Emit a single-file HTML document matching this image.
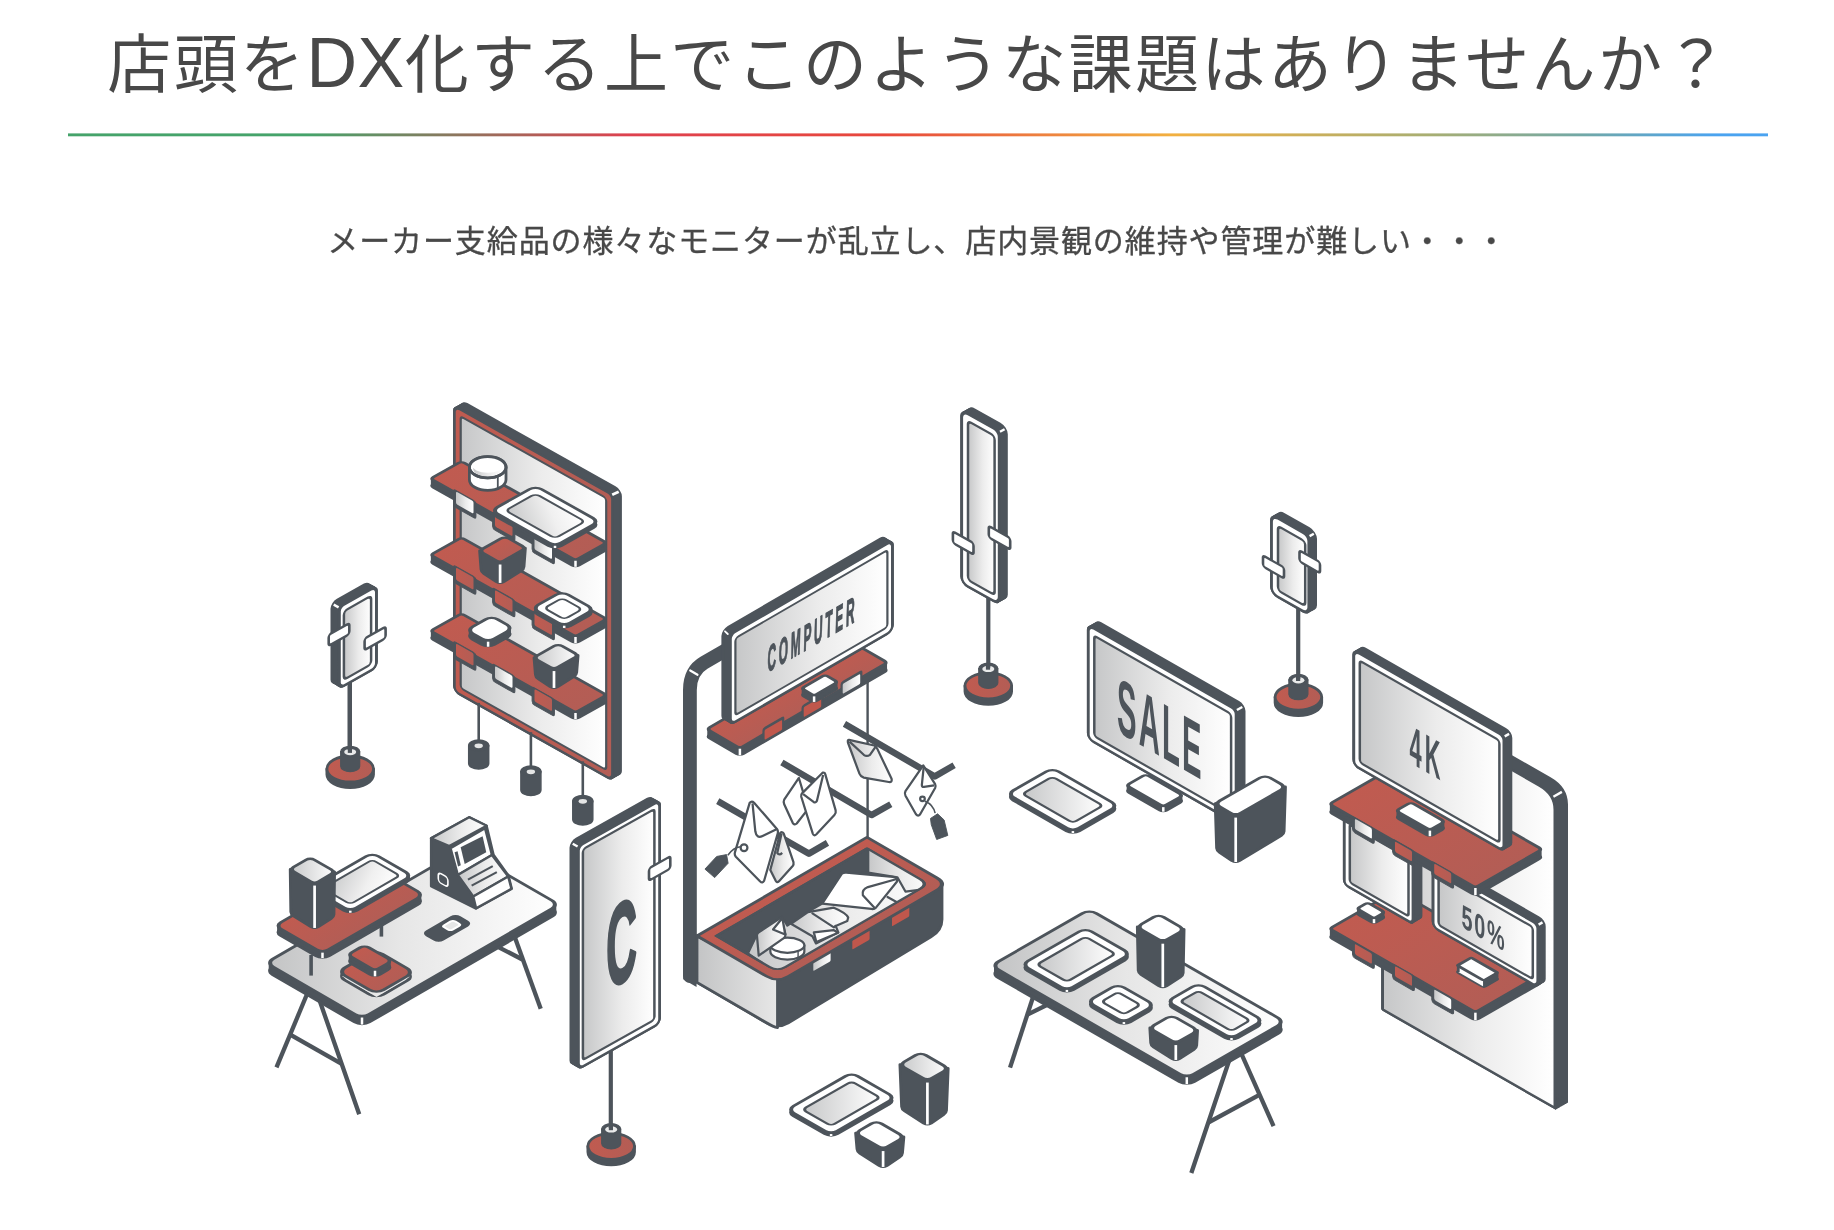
<!DOCTYPE html>
<html lang="ja"><head><meta charset="utf-8"><title>店頭DX</title>
<style>
html,body{margin:0;padding:0;background:#fff;}
body{width:1834px;height:1230px;overflow:hidden;position:relative;font-family:"Liberation Sans","Noto Sans CJK JP",sans-serif;color:#4a4a4a;}
h1{position:absolute;left:0;top:0;width:1834px;margin:0;text-align:center;font-weight:400;font-size:64px;line-height:130px;letter-spacing:2.4px;padding-left:4px;box-sizing:border-box;white-space:nowrap;color:#484848;font-family:"Liberation Sans","Noto Sans CJK JP",sans-serif;}
p.sub{position:absolute;left:0;top:217.9px;width:1834px;margin:0;text-align:center;font-size:31px;line-height:48px;letter-spacing:0.9px;-webkit-text-stroke:0.3px #484848;padding-left:0.8px;box-sizing:border-box;white-space:nowrap;color:#484848;font-weight:400;font-family:"Liberation Sans","Noto Sans CJK JP",sans-serif;}
svg{position:absolute;left:0;top:0;}
h1,p.sub{will-change:transform;}
</style></head><body>
<h1>店頭を<span style="font-size:70px;line-height:0;letter-spacing:0.5px">DX</span>化する上でこのような課題はありませんか？</h1>
<p class="sub">メーカー支給品の様々なモニターが乱立し、店内景観の維持や管理が難しい・・・</p>
<svg width="1834" height="1230" viewBox="0 0 1834 1230">
<defs>
<linearGradient id="gl" x1="0" y1="0" x2="1" y2="0"><stop offset="0" stop-color="#c6c7c8"/><stop offset="0.55" stop-color="#ececec"/><stop offset="1" stop-color="#ffffff"/></linearGradient>
<linearGradient id="gr" x1="0" y1="0" x2="1" y2="0"><stop offset="0" stop-color="#c05b50"/><stop offset="1" stop-color="#b35d55"/></linearGradient>
<linearGradient id="gt" gradientUnits="objectBoundingBox" x1="0" y1="1" x2="1" y2="0"><stop offset="0" stop-color="#c6c7c8"/><stop offset="0.6" stop-color="#f0f0f0"/><stop offset="1" stop-color="#ffffff"/></linearGradient>
<linearGradient id="rule" x1="0" y1="0" x2="1" y2="0"><stop offset="0" stop-color="#45a36a"/><stop offset="0.14" stop-color="#45a36a"/><stop offset="0.33" stop-color="#de414f"/><stop offset="0.48" stop-color="#e8483c"/><stop offset="0.65" stop-color="#f2b040"/><stop offset="0.80" stop-color="#a8ae72"/><stop offset="0.89" stop-color="#72a8a6"/><stop offset="0.97" stop-color="#4aa3f0"/><stop offset="1" stop-color="#4aa3f0"/></linearGradient>
</defs>
<rect x="68" y="133.4" width="1700" height="2.9" fill="url(#rule)"/>
<rect transform="matrix(1,0.562,0,1,454.4,406.2)" x="0" y="0" width="158.1" height="285" rx="5" fill="#4d545b" stroke="#4d545b" stroke-width="2.8" />
<rect transform="matrix(1,0.562,0,1,455.29,405.7)" x="0" y="0" width="158.1" height="285" rx="5" fill="#4d545b" stroke="#4d545b" stroke-width="2.8" />
<rect transform="matrix(1,0.562,0,1,456.18,405.2)" x="0" y="0" width="158.1" height="285" rx="5" fill="#4d545b" stroke="#4d545b" stroke-width="2.8" />
<rect transform="matrix(1,0.562,0,1,457.07,404.7)" x="0" y="0" width="158.1" height="285" rx="5" fill="#4d545b" stroke="#4d545b" stroke-width="2.8" />
<rect transform="matrix(1,0.562,0,1,457.96,404.2)" x="0" y="0" width="158.1" height="285" rx="5" fill="#4d545b" stroke="#4d545b" stroke-width="2.8" />
<rect transform="matrix(1,0.562,0,1,458.84,403.7)" x="0" y="0" width="158.1" height="285" rx="5" fill="#4d545b" stroke="#4d545b" stroke-width="2.8" />
<rect transform="matrix(1,0.562,0,1,459.73,403.2)" x="0" y="0" width="158.1" height="285" rx="5" fill="#4d545b" stroke="#4d545b" stroke-width="2.8" />
<rect transform="matrix(1,0.562,0,1,460.62,402.7)" x="0" y="0" width="158.1" height="285" rx="5" fill="#4d545b" stroke="#4d545b" stroke-width="2.8" />
<rect transform="matrix(1,0.562,0,1,461.51,402.2)" x="0" y="0" width="158.1" height="285" rx="5" fill="#4d545b" stroke="#4d545b" stroke-width="2.8" />
<rect transform="matrix(1,0.562,0,1,462.4,401.7)" x="0" y="0" width="158.1" height="285" rx="5" fill="#4d545b" stroke="#4d545b" stroke-width="2.8" />
<rect transform="matrix(1,0.562,0,1,454.4,406.2)" x="0" y="0" width="158.1" height="285" rx="5" fill="url(#gr)" stroke="#4d545b" stroke-width="2.7" />
<rect transform="matrix(1,0.562,0,1,454.4,406.2)" x="6.3" y="6.6" width="145.5" height="271.8" rx="3" fill="url(#gl)" stroke="#4d545b" stroke-width="2.2" />
<line x1="612.2" y1="494.75" x2="618.7" y2="491.65" stroke="#ffffff" stroke-width="2.8" stroke-linecap="butt"/>
<line x1="478.7" y1="702.86" x2="478.7" y2="745.5" stroke="#4d545b" stroke-width="2.6" stroke-linecap="butt"/>
<path d="M468.7,745.5 L468.7,763.5 A10,5.6 0 0 0 488.7,763.5 L488.7,745.5 Z" fill="#4d545b" stroke="#4d545b" stroke-width="1.5" stroke-linejoin="round" stroke-linecap="round" />
<ellipse cx="478.7" cy="745.5" rx="10" ry="5.6" fill="#4d545b" stroke="#4d545b" stroke-width="1.5" />
<ellipse cx="478.7" cy="745.8" rx="4.2" ry="2.4" fill="#e4e5e5" stroke="none" stroke-width="0" />
<line x1="530.9" y1="732.19" x2="530.9" y2="771.5" stroke="#4d545b" stroke-width="2.6" stroke-linecap="butt"/>
<path d="M520.9,771.5 L520.9,790 A10,5.6 0 0 0 540.9,790 L540.9,771.5 Z" fill="#4d545b" stroke="#4d545b" stroke-width="1.5" stroke-linejoin="round" stroke-linecap="round" />
<ellipse cx="530.9" cy="771.5" rx="10" ry="5.6" fill="#4d545b" stroke="#4d545b" stroke-width="1.5" />
<ellipse cx="530.9" cy="771.8" rx="4.2" ry="2.4" fill="#e4e5e5" stroke="none" stroke-width="0" />
<line x1="582.8" y1="761.36" x2="582.8" y2="801" stroke="#4d545b" stroke-width="2.6" stroke-linecap="butt"/>
<path d="M572.8,801 L572.8,819.5 A10,5.6 0 0 0 592.8,819.5 L592.8,801 Z" fill="#4d545b" stroke="#4d545b" stroke-width="1.5" stroke-linejoin="round" stroke-linecap="round" />
<ellipse cx="582.8" cy="801" rx="10" ry="5.6" fill="#4d545b" stroke="#4d545b" stroke-width="1.5" />
<ellipse cx="582.8" cy="801.3" rx="4.2" ry="2.4" fill="#e4e5e5" stroke="none" stroke-width="0" />
<rect transform="matrix(1,0.562,-1,0.562,461.5,468.3)" x="0" y="0" width="145" height="31" rx="3" fill="#4d545b" stroke="#4d545b" stroke-width="2.8" />
<polygon points="432.26,478.72 432.26,485.72 604.74,549.79 604.74,542.79" fill="#4d545b" stroke="#4d545b" stroke-width="2.8" stroke-linejoin="round" />
<rect transform="matrix(1,0.562,-1,0.562,461.5,461.3)" x="0" y="0" width="145" height="31" rx="3" fill="url(#gr)" stroke="#4d545b" stroke-width="2.8" />
<line x1="575.5" y1="560.76" x2="575.5" y2="566.82" stroke="#ffffff" stroke-width="2.5" stroke-linecap="butt"/>
<rect transform="matrix(1,0.562,0,1,453.6,489)" x="0" y="0" width="22.3" height="17.4" rx="2.5" fill="#4d545b" stroke="#4d545b" stroke-width="1" />
<rect transform="matrix(1,0.562,0,1,456,491.5)" x="0" y="0" width="17.5" height="12.5" rx="1.5" fill="url(#gl)" stroke="none" stroke-width="0" />
<rect transform="matrix(1,0.562,0,1,492.6,511.5)" x="0" y="0" width="22.3" height="17.4" rx="2.5" fill="#4d545b" stroke="#4d545b" stroke-width="1" />
<rect transform="matrix(1,0.562,0,1,495,514)" x="0" y="0" width="17.5" height="12.5" rx="1.5" fill="url(#gr)" stroke="none" stroke-width="0" />
<rect transform="matrix(1,0.562,0,1,532.1,534.5)" x="0" y="0" width="22.3" height="17.4" rx="2.5" fill="#4d545b" stroke="#4d545b" stroke-width="1" />
<rect transform="matrix(1,0.562,0,1,534.5,537)" x="0" y="0" width="17.5" height="12.5" rx="1.5" fill="url(#gl)" stroke="none" stroke-width="0" />
<path d="M469.4,467.2 L469.4,479.7 A18.3,10.6 0 0 0 506,479.7 L506,467.2 Z" fill="#ffffff" stroke="#4d545b" stroke-width="2.8" stroke-linejoin="round" stroke-linecap="round" />
<ellipse cx="487.7" cy="467.2" rx="18.3" ry="10.6" fill="#ffffff" stroke="#4d545b" stroke-width="2.8" />
<ellipse cx="487.7" cy="468.8" rx="14.5" ry="7.6" fill="url(#gl)"/>
<ellipse cx="487.7" cy="464.6" rx="16" ry="8.2" fill="#fff"/>
<ellipse cx="487.7" cy="467.2" rx="18.3" ry="10.6" fill="none" stroke="#4d545b" stroke-width="2.8" />
<line x1="497.8" y1="477.2" x2="497.8" y2="489.2" stroke="#4d545b" stroke-width="1.8" stroke-linecap="butt"/>
<rect transform="matrix(1,0.562,-1,0.562,535.5,489)" x="0" y="0" width="63.5" height="44" rx="6" fill="#4d545b" stroke="#4d545b" stroke-width="2.8" />
<polygon points="495.02,510.53 495.02,513.73 595.48,524.69 595.48,521.49" fill="#4d545b" stroke="#4d545b" stroke-width="2.8" stroke-linejoin="round" />
<rect transform="matrix(1,0.562,-1,0.562,535.5,485.8)" x="0" y="0" width="63.5" height="44" rx="6" fill="#ffffff" stroke="#4d545b" stroke-width="2.8" />
<line x1="555" y1="545.78" x2="555" y2="548.04" stroke="#ffffff" stroke-width="2.5" stroke-linecap="butt"/>
<rect transform="matrix(1,0.562,-1,0.562,535.5,485.8)" x="7" y="7" width="49.5" height="30" rx="4" fill="url(#gt)" stroke="#4d545b" stroke-width="2" />
<rect transform="matrix(1,0.562,-1,0.562,461.5,544.5)" x="0" y="0" width="145" height="31" rx="3" fill="#4d545b" stroke="#4d545b" stroke-width="2.8" />
<polygon points="432.26,554.92 432.26,561.92 604.74,625.99 604.74,618.99" fill="#4d545b" stroke="#4d545b" stroke-width="2.8" stroke-linejoin="round" />
<rect transform="matrix(1,0.562,-1,0.562,461.5,537.5)" x="0" y="0" width="145" height="31" rx="3" fill="url(#gr)" stroke="#4d545b" stroke-width="2.8" />
<line x1="575.5" y1="636.96" x2="575.5" y2="643.02" stroke="#ffffff" stroke-width="2.5" stroke-linecap="butt"/>
<rect transform="matrix(1,0.562,0,1,453.6,565)" x="0" y="0" width="22.3" height="17.4" rx="2.5" fill="#4d545b" stroke="#4d545b" stroke-width="1" />
<rect transform="matrix(1,0.562,0,1,456,567.5)" x="0" y="0" width="17.5" height="12.5" rx="1.5" fill="url(#gr)" stroke="none" stroke-width="0" />
<rect transform="matrix(1,0.562,0,1,492.6,587.5)" x="0" y="0" width="22.3" height="17.4" rx="2.5" fill="#4d545b" stroke="#4d545b" stroke-width="1" />
<rect transform="matrix(1,0.562,0,1,495,590)" x="0" y="0" width="17.5" height="12.5" rx="1.5" fill="url(#gr)" stroke="none" stroke-width="0" />
<rect transform="matrix(1,0.562,0,1,532.1,610.5)" x="0" y="0" width="22.3" height="17.4" rx="2.5" fill="#4d545b" stroke="#4d545b" stroke-width="1" />
<rect transform="matrix(1,0.562,0,1,534.5,613)" x="0" y="0" width="17.5" height="12.5" rx="1.5" fill="url(#gr)" stroke="none" stroke-width="0" />
<path d="M479.6,550.86 L481,569.36 Q481.2,571.86 483.5,573.26 L496.1,581.51 Q500.1,583.71 504.1,581.51 L521.5,570.56 Q523.8,569.16 524,566.66 L525.4,548.16 Z" fill="#4d545b" stroke="#4d545b" stroke-width="2.8" stroke-linejoin="round" stroke-linecap="round" />
<rect transform="matrix(1,0.562,-1,0.562,504.9,536.3)" x="0" y="0" width="21.1" height="25.9" rx="4" fill="url(#gr)" stroke="#4d545b" stroke-width="2.8"/>
<line x1="500.1" y1="564.51" x2="500.1" y2="582.91" stroke="#ffffff" stroke-width="2.7" stroke-linecap="butt"/>
<rect transform="matrix(1,0.562,-1,0.562,562.2,594.5)" x="0" y="0" width="32" height="30" rx="6" fill="#4d545b" stroke="#4d545b" stroke-width="2.8" />
<polygon points="535.72,608.16 535.72,611.36 590.68,612.48 590.68,609.28" fill="#4d545b" stroke="#4d545b" stroke-width="2.8" stroke-linejoin="round" />
<rect transform="matrix(1,0.562,-1,0.562,562.2,591.3)" x="0" y="0" width="32" height="30" rx="6" fill="#ffffff" stroke="#4d545b" stroke-width="2.8" />
<line x1="564.2" y1="625.71" x2="564.2" y2="627.97" stroke="#ffffff" stroke-width="2.5" stroke-linecap="butt"/>
<rect transform="matrix(1,0.562,-1,0.562,562.2,591.3)" x="6" y="6" width="20" height="18" rx="4" fill="#ffffff" stroke="#4d545b" stroke-width="2" />
<rect transform="matrix(1,0.562,-1,0.562,461.5,620.5)" x="0" y="0" width="145" height="31" rx="3" fill="#4d545b" stroke="#4d545b" stroke-width="2.8" />
<polygon points="432.26,630.92 432.26,637.92 604.74,701.99 604.74,694.99" fill="#4d545b" stroke="#4d545b" stroke-width="2.8" stroke-linejoin="round" />
<rect transform="matrix(1,0.562,-1,0.562,461.5,613.5)" x="0" y="0" width="145" height="31" rx="3" fill="url(#gr)" stroke="#4d545b" stroke-width="2.8" />
<line x1="575.5" y1="712.96" x2="575.5" y2="719.02" stroke="#ffffff" stroke-width="2.5" stroke-linecap="butt"/>
<rect transform="matrix(1,0.562,0,1,453.6,641)" x="0" y="0" width="22.3" height="17.4" rx="2.5" fill="#4d545b" stroke="#4d545b" stroke-width="1" />
<rect transform="matrix(1,0.562,0,1,456,643.5)" x="0" y="0" width="17.5" height="12.5" rx="1.5" fill="url(#gr)" stroke="none" stroke-width="0" />
<rect transform="matrix(1,0.562,0,1,492.6,663.5)" x="0" y="0" width="22.3" height="17.4" rx="2.5" fill="#4d545b" stroke="#4d545b" stroke-width="1" />
<rect transform="matrix(1,0.562,0,1,495,666)" x="0" y="0" width="17.5" height="12.5" rx="1.5" fill="url(#gl)" stroke="none" stroke-width="0" />
<rect transform="matrix(1,0.562,0,1,532.1,686.5)" x="0" y="0" width="22.3" height="17.4" rx="2.5" fill="#4d545b" stroke="#4d545b" stroke-width="1" />
<rect transform="matrix(1,0.562,0,1,534.5,689)" x="0" y="0" width="17.5" height="12.5" rx="1.5" fill="url(#gr)" stroke="none" stroke-width="0" />
<rect transform="matrix(1,0.562,-1,0.562,491.6,622)" x="0" y="0" width="21.5" height="25" rx="6" fill="#4d545b" stroke="#4d545b" stroke-width="2.8" />
<polygon points="470.12,630.05 470.12,636.05 509.58,634.08 509.58,628.08" fill="#4d545b" stroke="#4d545b" stroke-width="2.8" stroke-linejoin="round" />
<rect transform="matrix(1,0.562,-1,0.562,491.6,616)" x="0" y="0" width="21.5" height="25" rx="6" fill="#ffffff" stroke="#4d545b" stroke-width="2.8" />
<line x1="488.1" y1="641.7" x2="488.1" y2="646.76" stroke="#ffffff" stroke-width="2.5" stroke-linecap="butt"/>
<path d="M534,657.68 L535.4,674.68 Q535.6,677.18 537.9,678.58 L550,686.56 Q554,688.76 558,686.56 L574.2,676.28 Q576.5,674.88 576.7,672.38 L578.1,655.38 Z" fill="#4d545b" stroke="#4d545b" stroke-width="2.8" stroke-linejoin="round" stroke-linecap="round" />
<defs><linearGradient id="hg1" gradientUnits="userSpaceOnUse" x1="0" y1="24.7" x2="22.65" y2="2.05"><stop offset="0" stop-color="#c6c7c8"/><stop offset="1" stop-color="#ffffff"/></linearGradient></defs>
<rect transform="matrix(1,0.562,-1,0.562,558.1,643.8)" x="0" y="0" width="20.6" height="24.7" rx="4" fill="url(#hg1)" stroke="#4d545b" stroke-width="2.8"/>
<line x1="554" y1="671.06" x2="554" y2="687.96" stroke="#ffffff" stroke-width="2.7" stroke-linecap="butt"/>
<line x1="349.8" y1="680" x2="349.8" y2="751" stroke="#4d545b" stroke-width="4.2" stroke-linecap="butt"/>
<path d="M326.9,769 L326.9,774.6 A23.3,13 0 0 0 373.5,774.6 L373.5,769 Z" fill="#4d545b" stroke="#4d545b" stroke-width="2.8" stroke-linejoin="round" stroke-linecap="round" />
<ellipse cx="350.2" cy="769" rx="23.3" ry="13" fill="url(#gr)" stroke="#4d545b" stroke-width="2.8" />
<path d="M340.7,751.7 L340.7,766.2 A9.5,5.4 0 0 0 359.7,766.2 L359.7,751.7 Z" fill="#4d545b" stroke="#4d545b" stroke-width="1.2" stroke-linejoin="round" stroke-linecap="round" />
<ellipse cx="350.2" cy="751.7" rx="9.5" ry="5.4" fill="#4d545b" stroke="#4d545b" stroke-width="1.2" />
<ellipse cx="350.2" cy="752.1" rx="6" ry="3.2" fill="#e9eaea" stroke="none" stroke-width="0" />
<line x1="349.9" y1="748.7" x2="349.9" y2="752.9" stroke="#4d545b" stroke-width="4.2" stroke-linecap="butt"/>
<line x1="349.8" y1="680" x2="349.8" y2="750" stroke="#4d545b" stroke-width="4.2" stroke-linecap="butt"/>
<rect transform="matrix(1,-0.562,0,1,339.4,607.2)" x="0" y="0" width="37" height="81" rx="5" fill="#4d545b" stroke="#4d545b" stroke-width="2.8" />
<rect transform="matrix(1,-0.562,0,1,338.46,606.67)" x="0" y="0" width="37" height="81" rx="5" fill="#4d545b" stroke="#4d545b" stroke-width="2.8" />
<rect transform="matrix(1,-0.562,0,1,337.52,606.15)" x="0" y="0" width="37" height="81" rx="5" fill="#4d545b" stroke="#4d545b" stroke-width="2.8" />
<rect transform="matrix(1,-0.562,0,1,336.59,605.62)" x="0" y="0" width="37" height="81" rx="5" fill="#4d545b" stroke="#4d545b" stroke-width="2.8" />
<rect transform="matrix(1,-0.562,0,1,335.65,605.09)" x="0" y="0" width="37" height="81" rx="5" fill="#4d545b" stroke="#4d545b" stroke-width="2.8" />
<rect transform="matrix(1,-0.562,0,1,334.71,604.57)" x="0" y="0" width="37" height="81" rx="5" fill="#4d545b" stroke="#4d545b" stroke-width="2.8" />
<rect transform="matrix(1,-0.562,0,1,333.77,604.04)" x="0" y="0" width="37" height="81" rx="5" fill="#4d545b" stroke="#4d545b" stroke-width="2.8" />
<rect transform="matrix(1,-0.562,0,1,332.84,603.51)" x="0" y="0" width="37" height="81" rx="5" fill="#4d545b" stroke="#4d545b" stroke-width="2.8" />
<rect transform="matrix(1,-0.562,0,1,331.9,602.99)" x="0" y="0" width="37" height="81" rx="5" fill="#4d545b" stroke="#4d545b" stroke-width="2.8" />
<rect transform="matrix(1,-0.562,0,1,339.4,607.2)" x="0" y="0" width="37" height="81" rx="5" fill="#ffffff" stroke="#4d545b" stroke-width="2.8" />
<rect transform="matrix(1,-0.562,0,1,339.4,607.2)" x="4.5" y="6.5" width="27.2" height="68.5" rx="3.5" fill="url(#gl)" stroke="#4d545b" stroke-width="2.5" />
<line x1="338.6" y1="607.4" x2="333.7" y2="604.65" stroke="#ffffff" stroke-width="2.4" stroke-linecap="butt"/>
<rect transform="matrix(1,-0.562,0,1,328.7,634.8)" x="0" y="0" width="20.6" height="11" rx="2.5" fill="#ffffff" stroke="#4d545b" stroke-width="2.6" />
<rect transform="matrix(1,-0.562,0,1,364.6,638.5)" x="0" y="0" width="21" height="11.5" rx="2.5" fill="#ffffff" stroke="#4d545b" stroke-width="2.6" />
<line x1="310" y1="987" x2="277.3" y2="1065.4" stroke="#4d545b" stroke-width="4.3" stroke-linecap="square"/>
<line x1="317" y1="993" x2="358.5" y2="1112.2" stroke="#4d545b" stroke-width="4.3" stroke-linecap="square"/>
<line x1="291.6" y1="1035.4" x2="339.8" y2="1062.7" stroke="#4d545b" stroke-width="4.3" stroke-linecap="square"/>
<line x1="511.5" y1="928" x2="540" y2="1006.8" stroke="#4d545b" stroke-width="4.3" stroke-linecap="square"/>
<line x1="497" y1="946.3" x2="520.5" y2="958.5" stroke="#4d545b" stroke-width="4.3" stroke-linecap="square"/>
<defs><linearGradient id="hg2" gradientUnits="userSpaceOnUse" x1="0" y1="197" x2="146.5" y2="50.5"><stop offset="0" stop-color="#c2c3c4"/><stop offset="0.45" stop-color="#e6e6e6"/><stop offset="1" stop-color="#ffffff"/></linearGradient></defs>
<rect transform="matrix(1,0.578,-1,0.578,463,857)" x="0" y="0" width="96" height="197" rx="7" fill="#4d545b" stroke="#4d545b" stroke-width="2.8"/>
<polygon points="270.1,962.87 270.1,970.87 362,1024.95 554.9,912.49 554.9,904.49" fill="#4d545b" stroke="none"/>
<line x1="270.1" y1="962.87" x2="270.1" y2="970.87" stroke="#4d545b" stroke-width="2.8" stroke-linecap="butt"/>
<line x1="554.9" y1="904.49" x2="554.9" y2="912.49" stroke="#4d545b" stroke-width="2.8" stroke-linecap="butt"/>
<rect transform="matrix(1,0.578,-1,0.578,463,849)" x="0" y="0" width="96" height="197" rx="7" fill="url(#hg2)" stroke="#4d545b" stroke-width="2.8"/>
<line x1="362" y1="1017.52" x2="362" y2="1024.58" stroke="#ffffff" stroke-width="2.5" stroke-linecap="butt"/>
<rect transform="matrix(1,0.578,-1,0.578,455.5,914.5)" x="0" y="0" width="15.6" height="32.5" rx="4" fill="#4d545b" stroke="#4d545b" stroke-width="2"/>
<rect transform="matrix(1,0.578,-1,0.578,455.5,914.5)" x="3.6" y="6.2" width="8" height="10.5" rx="2.2" fill="#e6e7e7" stroke="#fff" stroke-width="2"/>
<rect transform="matrix(1,0.578,-1,0.578,375.5,954.5)" x="0" y="0" width="38.5" height="37.5" rx="7" fill="#e9e9e9" stroke="#4d545b" stroke-width="2.8"/>
<polygon points="342.1,971.67 342.1,976.17 376.5,997.03 409.9,976.75 409.9,972.25" fill="#e9e9e9" stroke="none"/>
<line x1="342.1" y1="971.67" x2="342.1" y2="976.17" stroke="#4d545b" stroke-width="2.8" stroke-linecap="butt"/>
<line x1="409.9" y1="972.25" x2="409.9" y2="976.75" stroke="#4d545b" stroke-width="2.8" stroke-linecap="butt"/>
<rect transform="matrix(1,0.578,-1,0.578,375.5,950)" x="0" y="0" width="38.5" height="37.5" rx="7" fill="url(#gr)" stroke="#4d545b" stroke-width="2.8"/>
<rect transform="matrix(1,0.578,-1,0.578,364.5,951.5)" x="0" y="0" width="27.5" height="17" rx="4.5" fill="#4d545b" stroke="#4d545b" stroke-width="2.8"/>
<polygon points="350.14,954.83 350.14,961.33 375,976.32 389.36,967.39 389.36,960.89" fill="#4d545b" stroke="none"/>
<line x1="350.14" y1="954.83" x2="350.14" y2="961.33" stroke="#4d545b" stroke-width="2.8" stroke-linecap="butt"/>
<line x1="389.36" y1="960.89" x2="389.36" y2="967.39" stroke="#4d545b" stroke-width="2.8" stroke-linecap="butt"/>
<rect transform="matrix(1,0.578,-1,0.578,364.5,945)" x="0" y="0" width="27.5" height="17" rx="4.5" fill="url(#gr)" stroke="#4d545b" stroke-width="2.8"/>
<line x1="375" y1="970.74" x2="375" y2="976.3" stroke="#ffffff" stroke-width="2.5" stroke-linecap="butt"/>
<line x1="311.1" y1="955" x2="311.1" y2="975.6" stroke="#4d545b" stroke-width="3.6" stroke-linecap="butt"/>
<line x1="381.4" y1="925" x2="381.4" y2="936.6" stroke="#4d545b" stroke-width="3.6" stroke-linecap="butt"/>
<rect transform="matrix(1,0.578,-1,0.578,376,873.8)" x="0" y="0" width="47.5" height="101" rx="6" fill="#4d545b" stroke="#4d545b" stroke-width="2.8"/>
<polygon points="278.52,925.68 278.52,932.18 322.5,958.43 419.98,901.25 419.98,894.75" fill="#4d545b" stroke="none"/>
<line x1="278.52" y1="925.68" x2="278.52" y2="932.18" stroke="#4d545b" stroke-width="2.8" stroke-linecap="butt"/>
<line x1="419.98" y1="894.75" x2="419.98" y2="901.25" stroke="#4d545b" stroke-width="2.8" stroke-linecap="butt"/>
<rect transform="matrix(1,0.578,-1,0.578,376,867.3)" x="0" y="0" width="47.5" height="101" rx="6" fill="url(#gr)" stroke="#4d545b" stroke-width="2.8"/>
<line x1="322.5" y1="952.64" x2="322.5" y2="958.2" stroke="#ffffff" stroke-width="2.5" stroke-linecap="butt"/>
<rect transform="matrix(1,0.578,-1,0.578,372.3,855.8)" x="0" y="0" width="39.5" height="61.5" rx="6" fill="#4d545b" stroke="#4d545b" stroke-width="2.8"/>
<polygon points="314.32,888.35 314.32,891.35 350.3,912.98 408.28,878.63 408.28,875.63" fill="#4d545b" stroke="none"/>
<line x1="314.32" y1="888.35" x2="314.32" y2="891.35" stroke="#4d545b" stroke-width="2.8" stroke-linecap="butt"/>
<line x1="408.28" y1="875.63" x2="408.28" y2="878.63" stroke="#4d545b" stroke-width="2.8" stroke-linecap="butt"/>
<rect transform="matrix(1,0.578,-1,0.578,372.3,852.8)" x="0" y="0" width="39.5" height="61.5" rx="6" fill="#ffffff" stroke="#4d545b" stroke-width="2.8"/>
<line x1="350.3" y1="910.69" x2="350.3" y2="912.75" stroke="#ffffff" stroke-width="2.5" stroke-linecap="butt"/>
<rect transform="matrix(1,0.578,-1,0.578,372.3,852.8)" x="6" y="6" width="27.5" height="49.5" rx="3.5" fill="url(#gt)" stroke="#4d545b" stroke-width="2"/>
<path d="M290.2,869.31 L290.8,911.81 Q291,914.31 293.3,915.71 L310.6,926.56 Q314.6,928.76 318.6,926.56 L331.5,918.25 Q333.8,916.85 334,914.35 L334.6,871.85 Z" fill="#4d545b" stroke="#4d545b" stroke-width="2.8" stroke-linejoin="round" stroke-linecap="round" />
<defs><linearGradient id="hg3" gradientUnits="userSpaceOnUse" x1="0" y1="20.6" x2="22.8" y2="-2.2"><stop offset="0" stop-color="#c6c7c8"/><stop offset="1" stop-color="#ffffff"/></linearGradient></defs>
<rect transform="matrix(1,0.578,-1,0.578,310.2,857.4)" x="0" y="0" width="25" height="20.6" rx="4" fill="url(#hg3)" stroke="#4d545b" stroke-width="2.8"/>
<line x1="314.6" y1="885.56" x2="314.6" y2="927.96" stroke="#ffffff" stroke-width="2.7" stroke-linecap="butt"/>
<polygon points="430.98,838.33 469.19,817.2 486.67,825.73 493.58,854.59 508.62,875.73 511.87,888.74 476.1,908.66 430.98,886.3" fill="#4d545b" stroke="#4d545b" stroke-width="2.2" stroke-linejoin="round" />
<polygon points="430.98,838.33 469.19,817.2 486.67,825.73 449.27,846.06" fill="url(#gl)" stroke="#4d545b" stroke-width="2.4" stroke-linejoin="round" />
<polygon points="450.49,848.09 485.04,828.17 491.95,855 457.8,874.92" fill="#ffffff" stroke="#4d545b" stroke-width="2.4" stroke-linejoin="round" />
<polygon points="460.65,847.28 482.6,836.3 486.26,852.15 464.72,863.94" fill="#4d545b" stroke="none" stroke-width="0" stroke-linejoin="round" />
<polygon points="454.55,852.32 457.56,851.18 460.81,865.33 458.05,866.46" fill="#4d545b" stroke="none" stroke-width="0" stroke-linejoin="round" />
<polygon points="457.8,874.92 491.95,855 508.21,876.54 473.25,896.46" fill="url(#gl)" stroke="#4d545b" stroke-width="2.4" stroke-linejoin="round" />
<line x1="467.97" y1="879.63" x2="492.76" y2="866.14" stroke="#4d545b" stroke-width="2.2" stroke-linecap="butt"/>
<line x1="471.63" y1="885.65" x2="496.83" y2="872.15" stroke="#4d545b" stroke-width="2.2" stroke-linecap="butt"/>
<polygon points="473.25,896.46 508.21,876.54 511.46,888.74 476.1,908.25" fill="#ffffff" stroke="#4d545b" stroke-width="2.4" stroke-linejoin="round" />
<rect transform="matrix(1,0.562,0,1,438.3,872.2)" x="0" y="0" width="9.6" height="9.6" rx="3" fill="none" stroke="#fff" stroke-width="1.6"/>
<path d="M587.9,1146.3 L587.9,1151.9 A23.3,13 0 0 0 634.5,1151.9 L634.5,1146.3 Z" fill="#4d545b" stroke="#4d545b" stroke-width="2.8" stroke-linejoin="round" stroke-linecap="round" />
<ellipse cx="611.2" cy="1146.3" rx="23.3" ry="13" fill="url(#gr)" stroke="#4d545b" stroke-width="2.8" />
<path d="M601.7,1129 L601.7,1143.5 A9.5,5.4 0 0 0 620.7,1143.5 L620.7,1129 Z" fill="#4d545b" stroke="#4d545b" stroke-width="1.2" stroke-linejoin="round" stroke-linecap="round" />
<ellipse cx="611.2" cy="1129" rx="9.5" ry="5.4" fill="#4d545b" stroke="#4d545b" stroke-width="1.2" />
<ellipse cx="611.2" cy="1129.4" rx="6" ry="3.2" fill="#e9eaea" stroke="none" stroke-width="0" />
<line x1="610.9" y1="1126" x2="610.9" y2="1130.2" stroke="#4d545b" stroke-width="4.2" stroke-linecap="butt"/>
<line x1="610.8" y1="1050" x2="610.8" y2="1128" stroke="#4d545b" stroke-width="4.2" stroke-linecap="butt"/>
<rect transform="matrix(1,-0.562,0,1,578.4,846.3)" x="0" y="0" width="81.2" height="222.7" rx="5" fill="#4d545b" stroke="#4d545b" stroke-width="2.8" />
<rect transform="matrix(1,-0.562,0,1,577.46,845.77)" x="0" y="0" width="81.2" height="222.7" rx="5" fill="#4d545b" stroke="#4d545b" stroke-width="2.8" />
<rect transform="matrix(1,-0.562,0,1,576.52,845.25)" x="0" y="0" width="81.2" height="222.7" rx="5" fill="#4d545b" stroke="#4d545b" stroke-width="2.8" />
<rect transform="matrix(1,-0.562,0,1,575.59,844.72)" x="0" y="0" width="81.2" height="222.7" rx="5" fill="#4d545b" stroke="#4d545b" stroke-width="2.8" />
<rect transform="matrix(1,-0.562,0,1,574.65,844.19)" x="0" y="0" width="81.2" height="222.7" rx="5" fill="#4d545b" stroke="#4d545b" stroke-width="2.8" />
<rect transform="matrix(1,-0.562,0,1,573.71,843.67)" x="0" y="0" width="81.2" height="222.7" rx="5" fill="#4d545b" stroke="#4d545b" stroke-width="2.8" />
<rect transform="matrix(1,-0.562,0,1,572.77,843.14)" x="0" y="0" width="81.2" height="222.7" rx="5" fill="#4d545b" stroke="#4d545b" stroke-width="2.8" />
<rect transform="matrix(1,-0.562,0,1,571.84,842.61)" x="0" y="0" width="81.2" height="222.7" rx="5" fill="#4d545b" stroke="#4d545b" stroke-width="2.8" />
<rect transform="matrix(1,-0.562,0,1,570.9,842.08)" x="0" y="0" width="81.2" height="222.7" rx="5" fill="#4d545b" stroke="#4d545b" stroke-width="2.8" />
<rect transform="matrix(1,-0.562,0,1,578.4,846.3)" x="0" y="0" width="81.2" height="222.7" rx="5" fill="#ffffff" stroke="#4d545b" stroke-width="2.8" />
<rect transform="matrix(1,-0.562,0,1,578.4,846.3)" x="4.5" y="5.5" width="71.5" height="210.7" rx="3" fill="url(#gl)" stroke="#4d545b" stroke-width="2.5" />
<line x1="577.6" y1="846.5" x2="572.7" y2="843.75" stroke="#ffffff" stroke-width="2.4" stroke-linecap="butt"/>
<rect transform="matrix(1,-0.562,0,1,649,868.3)" x="0" y="0" width="21.3" height="12.3" rx="2.5" fill="#ffffff" stroke="#4d545b" stroke-width="2.6" />
<text transform="matrix(0.375,-0.21,0,1,621.6,982)" text-anchor="middle" font-family="Liberation Sans, sans-serif" font-weight="bold" font-size="113" fill="#4d545b" stroke="#4d545b" stroke-width="3.5" stroke-linejoin="round">C</text>
<path d="M689.9,976 L689.9,690 Q689.9,671 704,662.8 L740,641.9" fill="none" stroke="#4d545b" stroke-width="13.8" stroke-linejoin="round" stroke-linecap="round" stroke-linecap="butt"/>
<polygon points="683.25,975 696.55,975 696.55,987 683.25,979.3" fill="#4d545b" stroke="none" stroke-width="0" stroke-linejoin="round" />
<line x1="690.2" y1="670.5" x2="697.5" y2="674.8" stroke="#ffffff" stroke-width="2.2" stroke-linecap="round"/>
<line x1="867.6" y1="676" x2="867.6" y2="840" stroke="#4d545b" stroke-width="2.4" stroke-linecap="butt"/>
<g transform="translate(700,710) scale(0.15449)" stroke-linejoin="round" stroke-linecap="butt">
<path d="M935,90 L1520,430 L1645,358" fill="none" stroke="#4d545b" stroke-width="42" />
<path d="M530,340 L1110,680 L1235,610" fill="none" stroke="#4d545b" stroke-width="42" />
<path d="M115,590 L705,930 L825,860" fill="none" stroke="#4d545b" stroke-width="42" />
<path d="M965,193 L1128,230 Q1140,235 1147,250 L1240,445 Q1245,470 1222,466 L1060,438 Q1040,432 1032,412 L958,212 Q954,192 965,193 Z" fill="url(#gl)" stroke="#4d545b" stroke-width="14.5" />
<path d="M968,205 L1060,290 Q1080,305 1100,290 L1135,240" fill="none" stroke="#4d545b" stroke-width="14.5" />
<path d="M1445,358 L1522,480 Q1528,492 1522,505 L1425,675 Q1412,692 1398,675 L1330,555 Q1322,540 1330,525 Z" fill="#ffffff" stroke="#4d545b" stroke-width="14.5" />
<path d="M1448,370 L1436,485 Q1436,500 1450,497 L1515,488" fill="none" stroke="#4d545b" stroke-width="14.5" />
<path d="M1440,575 m-15,0 a15,15 0 1,0 30,0 a15,15 0 1,0 -30,0" fill="none" stroke="#4d545b" stroke-width="14.5" />
<path d="M1455,590 Q1510,610 1522,668" fill="none" stroke="#4d545b" stroke-width="10" />
<path d="M1492,702 L1538,672 L1580,712 L1604,812 L1532,838 L1497,742 Z" fill="#4d545b" stroke="#4d545b" stroke-width="6" />
<path d="M640,440 L545,580 Q538,595 545,610 L600,730 Q612,748 626,735 L700,640 Z" fill="#ffffff" stroke="#4d545b" stroke-width="14.5" />
<path d="M795,405 Q808,402 812,420 L878,650 Q882,668 870,680 L752,806 Q738,818 730,800 L655,560 Q652,548 662,538 Z" fill="#ffffff" stroke="#4d545b" stroke-width="14.5" />
<path d="M668,545 L735,595 Q750,603 757,588 L797,420" fill="none" stroke="#4d545b" stroke-width="14.5" />
<path d="M322,600 Q335,585 350,600 L498,770 Q508,785 503,800 L415,1105 Q405,1125 388,1108 L232,950 Q222,938 226,922 Z" fill="#ffffff" stroke="#4d545b" stroke-width="14.5" />
<path d="M340,605 L358,785 Q366,835 405,815 L495,772" fill="none" stroke="#4d545b" stroke-width="14.5" />
<path d="M285,892 m-22,0 a22,22 0 1,0 44,0 a22,22 0 1,0 -44,0" fill="none" stroke="#4d545b" stroke-width="14.5" />
<path d="M262,885 Q215,890 180,940" fill="none" stroke="#4d545b" stroke-width="10" />
<path d="M32,1030 L108,948 L172,936 L182,992 L95,1085 Z" fill="#4d545b" stroke="#4d545b" stroke-width="6" />
<path d="M520,795 Q532,785 542,800 L605,985 Q608,1000 600,1010 L510,1110 Q498,1120 490,1105 L455,1035 Z" fill="url(#gl)" stroke="#4d545b" stroke-width="14.5" />
<path d="M528,800 L500,925 Q512,945 532,925" fill="none" stroke="#4d545b" stroke-width="14.5" />
</g>
<path d="M697,935.9 L697,982.4 L766.5,1022.71 Q777.5,1029.09 788.5,1022.71 L931,936.87 Q942,930.49 942,919.49 L942,883.99 Z" fill="#4d545b" stroke="#4d545b" stroke-width="2.8" stroke-linejoin="round" stroke-linecap="round" />
<defs><linearGradient id="binl" x1="0" y1="0" x2="1" y2="0"><stop offset="0" stop-color="#c3c4c5"/><stop offset="1" stop-color="#e7e7e7"/></linearGradient></defs>
<path d="M697,935.9 L697,982.4 L766.5,1022.71 Q773.5,1027.09 777.5,1027.59 L777.5,976.59 Z" fill="url(#binl)" stroke="#4d545b" stroke-width="2.8" stroke-linejoin="round" stroke-linecap="round" />
<rect transform="matrix(1,-0.58,0,1,813.3,961.5)" x="-1.5" y="-4" width="20.5" height="10" rx="2" fill="#4d545b"/>
<rect transform="matrix(1,-0.58,0,1,813.3,961.5)" x="0" y="0" width="17.3" height="9.6" rx="1" fill="url(#gl)"/>
<rect transform="matrix(1,-0.58,0,1,852.3,940)" x="-1.5" y="-4" width="20.5" height="10" rx="2" fill="#4d545b"/>
<rect transform="matrix(1,-0.58,0,1,852.3,940)" x="0" y="0" width="17.3" height="9.6" rx="1" fill="#c0574c"/>
<rect transform="matrix(1,-0.58,0,1,892,916.8)" x="-1.5" y="-4" width="20.5" height="10" rx="2" fill="#4d545b"/>
<rect transform="matrix(1,-0.58,0,1,892,916.8)" x="0" y="0" width="17.3" height="9.6" rx="1" fill="#c0574c"/>
<path transform="matrix(1,0.58,-1,0.58,867,837.3)" d="M0,0 L69.5,0 Q80.5,0 80.5,11 L80.5,159 Q80.5,170 69.5,170 L0,170 Z" fill="url(#gr)" stroke="#4d545b" stroke-width="2.8" stroke-linejoin="round"/>
<clipPath id="binclip"><path transform="matrix(1,0.58,-1,0.58,867,837.3)" d="M9.6,9.6 L62.9,9.6 Q70.9,9.6 70.9,17.6 L70.9,152.4 Q70.9,160.4 62.9,160.4 L9.6,160.4 Z"/></clipPath>
<path transform="matrix(1,0.58,-1,0.58,867,837.3)" d="M9.6,9.6 L62.9,9.6 Q70.9,9.6 70.9,17.6 L70.9,152.4 Q70.9,160.4 62.9,160.4 L9.6,160.4 Z" fill="#4d545b" stroke="#4d545b" stroke-width="2.2" stroke-linejoin="round"/>
<g clip-path="url(#binclip)">
<g transform="translate(680,820) scale(0.17892)" stroke-linejoin="round" stroke-linecap="round">
<path d="M1052,100 L1400,300 L1400,420 L1052,600 Z" fill="url(#gl)" stroke="#4d545b" stroke-width="12.5" />
<path d="M380,745 L430,640 L570,540 L600,590 L720,510 L790,470 L900,300 L1060,295 L1215,320 L1260,400 L1420,380 L1400,520 L600,900 Z" fill="url(#gl)" stroke="#4d545b" stroke-width="12.5" />
<path d="M505,700 L505,735 A95,45 0 0 0 695,735 L695,700 Z" fill="#ffffff" stroke="#4d545b" stroke-width="12.5" />
<path d="M600,700 m-95,0 a95,42 0 1,0 190,0 a95,42 0 1,0 -190,0" fill="#ffffff" stroke="#4d545b" stroke-width="12.5" />
<path d="M660,735 L660,770" fill="none" stroke="#4d545b" stroke-width="8" />
<path d="M430,645 Q430,635 440,628 L565,545 L590,640 Q590,655 578,662 L440,758 Z" fill="url(#gl)" stroke="#4d545b" stroke-width="12.5" />
<path d="M520,612 L572,548 L588,640 Z" fill="#ffffff" stroke="#4d545b" stroke-width="12.5" />
<path d="M620,580 L715,515 L860,490 Q930,520 940,545 L935,565 L870,592 L885,628 L760,690 L740,650 Z" fill="url(#gl)" stroke="#4d545b" stroke-width="12.5" />
<path d="M748,628 L858,615 L884,630 L762,682 Z" fill="#ffffff" stroke="#4d545b" stroke-width="12.5" />
<path d="M740,522 L860,600 L870,592" fill="none" stroke="#4d545b" stroke-width="12.5" />
<path d="M905,300 Q915,292 930,294 L1190,318 Q1222,322 1212,345 L1095,490 Q1085,500 1070,497 L795,468 Z" fill="#ffffff" stroke="#4d545b" stroke-width="12.5" />
<path d="M1212,330 L1050,375 Q1015,390 1022,420 L1088,492" fill="none" stroke="#4d545b" stroke-width="12.5" />
<path d="M1160,430 L1230,470" fill="none" stroke="#4d545b" stroke-width="12.5" />
</g></g>
<path transform="matrix(1,0.58,-1,0.58,867,837.3)" d="M9.6,9.6 L62.9,9.6 Q70.9,9.6 70.9,17.6 L70.9,152.4 Q70.9,160.4 62.9,160.4 L9.6,160.4 Z" fill="none" stroke="#4d545b" stroke-width="2.2" stroke-linejoin="round"/>
<rect transform="matrix(1,0.58,-1,0.58,854.4,651)" x="0" y="0" width="33" height="147.5" rx="3" fill="#4d545b" stroke="#4d545b" stroke-width="2.8"/>
<polygon points="708.66,729.05 708.66,736.55 739.9,755.09 885.64,670.14 885.64,662.64" fill="#4d545b" stroke="none"/>
<line x1="708.66" y1="729.05" x2="708.66" y2="736.55" stroke="#4d545b" stroke-width="2.8" stroke-linecap="butt"/>
<line x1="885.64" y1="662.64" x2="885.64" y2="670.14" stroke="#4d545b" stroke-width="2.8" stroke-linecap="butt"/>
<rect transform="matrix(1,0.58,-1,0.58,854.4,643.5)" x="0" y="0" width="33" height="147.5" rx="3" fill="url(#gr)" stroke="#4d545b" stroke-width="2.8"/>
<line x1="739.9" y1="748.71" x2="739.9" y2="755.27" stroke="#ffffff" stroke-width="2.5" stroke-linecap="butt"/>
<rect transform="matrix(1,-0.58,0,1,764.6,730)" x="-2.2" y="-3" width="21.9" height="15.2" rx="2.5" fill="#4d545b"/>
<rect transform="matrix(1,-0.58,0,1,764.6,730)" x="0" y="0" width="17.5" height="10" rx="1.2" fill="#c0574c"/>
<rect transform="matrix(1,-0.58,0,1,803.7,707.3)" x="-2.2" y="-3" width="21.9" height="15.2" rx="2.5" fill="#4d545b"/>
<rect transform="matrix(1,-0.58,0,1,803.7,707.3)" x="0" y="0" width="17.5" height="10" rx="1.2" fill="#c0574c"/>
<rect transform="matrix(1,-0.58,0,1,842.7,684)" x="-2.2" y="-3" width="21.9" height="15.2" rx="2.5" fill="#4d545b"/>
<rect transform="matrix(1,-0.58,0,1,842.7,684)" x="0" y="0" width="17.5" height="10" rx="1.2" fill="url(#gl)"/>
<rect transform="matrix(1,-0.58,0,1,730.4,634.6)" x="0" y="0" width="162" height="90" rx="5" fill="#4d545b" stroke="#4d545b" stroke-width="2.8"/>
<rect transform="matrix(1,-0.58,0,1,729.45,634.05)" x="0" y="0" width="162" height="90" rx="5" fill="#4d545b" stroke="#4d545b" stroke-width="2.8"/>
<rect transform="matrix(1,-0.58,0,1,728.5,633.5)" x="0" y="0" width="162" height="90" rx="5" fill="#4d545b" stroke="#4d545b" stroke-width="2.8"/>
<rect transform="matrix(1,-0.58,0,1,727.55,632.95)" x="0" y="0" width="162" height="90" rx="5" fill="#4d545b" stroke="#4d545b" stroke-width="2.8"/>
<rect transform="matrix(1,-0.58,0,1,726.6,632.4)" x="0" y="0" width="162" height="90" rx="5" fill="#4d545b" stroke="#4d545b" stroke-width="2.8"/>
<rect transform="matrix(1,-0.58,0,1,725.65,631.85)" x="0" y="0" width="162" height="90" rx="5" fill="#4d545b" stroke="#4d545b" stroke-width="2.8"/>
<rect transform="matrix(1,-0.58,0,1,724.7,631.29)" x="0" y="0" width="162" height="90" rx="5" fill="#4d545b" stroke="#4d545b" stroke-width="2.8"/>
<rect transform="matrix(1,-0.58,0,1,723.75,630.74)" x="0" y="0" width="162" height="90" rx="5" fill="#4d545b" stroke="#4d545b" stroke-width="2.8"/>
<rect transform="matrix(1,-0.58,0,1,722.8,630.19)" x="0" y="0" width="162" height="90" rx="5" fill="#4d545b" stroke="#4d545b" stroke-width="2.8"/>
<rect transform="matrix(1,-0.58,0,1,730.4,634.6)" x="0" y="0" width="162" height="90" rx="5" fill="#fff" stroke="#4d545b" stroke-width="2.8"/>
<rect transform="matrix(1,-0.58,0,1,730.4,634.6)" x="5" y="6.5" width="152" height="77" rx="3" fill="url(#gl)" stroke="#4d545b" stroke-width="2.2"/>
<line x1="727.8" y1="634" x2="725" y2="631.27" stroke="#ffffff" stroke-width="1.8" stroke-linecap="round"/>
<rect transform="matrix(1,0.58,-1,0.58,825.1,681.3)" x="0" y="0" width="12.5" height="23.5" rx="2.5" fill="#4d545b" stroke="#4d545b" stroke-width="2.8"/>
<polygon points="803.07,688.43 803.07,694.93 814.1,701.68 836.13,688.55 836.13,682.05" fill="#4d545b" stroke="none"/>
<line x1="803.07" y1="688.43" x2="803.07" y2="694.93" stroke="#4d545b" stroke-width="2.8" stroke-linecap="butt"/>
<line x1="836.13" y1="682.05" x2="836.13" y2="688.55" stroke="#4d545b" stroke-width="2.8" stroke-linecap="butt"/>
<rect transform="matrix(1,0.58,-1,0.58,825.1,674.8)" x="0" y="0" width="12.5" height="23.5" rx="2.5" fill="#ffffff" stroke="#4d545b" stroke-width="2.8"/>
<line x1="814.1" y1="696.37" x2="814.1" y2="701.93" stroke="#ffffff" stroke-width="2.5" stroke-linecap="butt"/>
<text transform="matrix(0.32,-0.1856,-0.025,1,767.3,672.6)" font-family="Liberation Sans, sans-serif" font-weight="bold" font-size="37" letter-spacing="8.6" fill="#4d545b" stroke="#4d545b" stroke-width="1" stroke-linejoin="round" style="vector-effect:non-scaling-stroke">COMPUTER</text>
<path d="M965,685.8 L965,691.4 A23.3,13 0 0 0 1011.6,691.4 L1011.6,685.8 Z" fill="#4d545b" stroke="#4d545b" stroke-width="2.8" stroke-linejoin="round" stroke-linecap="round" />
<ellipse cx="988.3" cy="685.8" rx="23.3" ry="13" fill="url(#gr)" stroke="#4d545b" stroke-width="2.8" />
<path d="M978.8,668.5 L978.8,683 A9.5,5.4 0 0 0 997.8,683 L997.8,668.5 Z" fill="#4d545b" stroke="#4d545b" stroke-width="1.2" stroke-linejoin="round" stroke-linecap="round" />
<ellipse cx="988.3" cy="668.5" rx="9.5" ry="5.4" fill="#4d545b" stroke="#4d545b" stroke-width="1.2" />
<ellipse cx="988.3" cy="668.9" rx="6" ry="3.2" fill="#e9eaea" stroke="none" stroke-width="0" />
<line x1="988" y1="665.5" x2="988" y2="669.7" stroke="#4d545b" stroke-width="4.2" stroke-linecap="butt"/>
<line x1="988.3" y1="598" x2="988.3" y2="667.5" stroke="#4d545b" stroke-width="4.2" stroke-linecap="butt"/>
<rect transform="matrix(1,0.562,0,1,961.7,410.5)" x="0" y="0" width="37.5" height="172.5" rx="6" fill="#4d545b" stroke="#4d545b" stroke-width="2.8" />
<rect transform="matrix(1,0.562,0,1,962.6,409.99)" x="0" y="0" width="37.5" height="172.5" rx="6" fill="#4d545b" stroke="#4d545b" stroke-width="2.8" />
<rect transform="matrix(1,0.562,0,1,963.5,409.49)" x="0" y="0" width="37.5" height="172.5" rx="6" fill="#4d545b" stroke="#4d545b" stroke-width="2.8" />
<rect transform="matrix(1,0.562,0,1,964.4,408.98)" x="0" y="0" width="37.5" height="172.5" rx="6" fill="#4d545b" stroke="#4d545b" stroke-width="2.8" />
<rect transform="matrix(1,0.562,0,1,965.3,408.48)" x="0" y="0" width="37.5" height="172.5" rx="6" fill="#4d545b" stroke="#4d545b" stroke-width="2.8" />
<rect transform="matrix(1,0.562,0,1,966.2,407.97)" x="0" y="0" width="37.5" height="172.5" rx="6" fill="#4d545b" stroke="#4d545b" stroke-width="2.8" />
<rect transform="matrix(1,0.562,0,1,967.1,407.47)" x="0" y="0" width="37.5" height="172.5" rx="6" fill="#4d545b" stroke="#4d545b" stroke-width="2.8" />
<rect transform="matrix(1,0.562,0,1,968,406.96)" x="0" y="0" width="37.5" height="172.5" rx="6" fill="#4d545b" stroke="#4d545b" stroke-width="2.8" />
<rect transform="matrix(1,0.562,0,1,968.9,406.45)" x="0" y="0" width="37.5" height="172.5" rx="6" fill="#4d545b" stroke="#4d545b" stroke-width="2.8" />
<rect transform="matrix(1,0.562,0,1,961.7,410.5)" x="0" y="0" width="37.5" height="172.5" rx="6" fill="#ffffff" stroke="#4d545b" stroke-width="2.8" />
<rect transform="matrix(1,0.562,0,1,961.7,410.5)" x="6.3" y="7" width="26.6" height="159" rx="3.5" fill="url(#gl)" stroke="#4d545b" stroke-width="2.5" />
<line x1="1000" y1="431.77" x2="1004.6" y2="429.19" stroke="#ffffff" stroke-width="2.4" stroke-linecap="butt"/>
<rect transform="matrix(1,0.562,0,1,952.9,531.5)" x="0" y="0" width="20.6" height="11.5" rx="2.5" fill="#ffffff" stroke="#4d545b" stroke-width="2.6" />
<rect transform="matrix(1,0.562,0,1,988.8,526)" x="0" y="0" width="21.4" height="11.5" rx="2.5" fill="#ffffff" stroke="#4d545b" stroke-width="2.6" />
<rect transform="matrix(1,0.572,-1,0.572,1145.8,779.8)" x="0" y="0" width="37" height="19.5" rx="3" fill="#4d545b" stroke="#4d545b" stroke-width="2.8"/>
<polygon points="1128.06,785.45 1128.06,790.95 1163.3,811.52 1181.04,800.96 1181.04,795.46" fill="#4d545b" stroke="none"/>
<line x1="1128.06" y1="785.45" x2="1128.06" y2="790.95" stroke="#4d545b" stroke-width="2.8" stroke-linecap="butt"/>
<line x1="1181.04" y1="795.46" x2="1181.04" y2="800.96" stroke="#4d545b" stroke-width="2.8" stroke-linecap="butt"/>
<rect transform="matrix(1,0.572,-1,0.572,1145.8,774.3)" x="0" y="0" width="37" height="19.5" rx="3" fill="#ffffff" stroke="#4d545b" stroke-width="2.8"/>
<line x1="1163.3" y1="807.15" x2="1163.3" y2="811.71" stroke="#ffffff" stroke-width="2.5" stroke-linecap="butt"/>
<rect transform="matrix(1,0.572,0,1,1088.3,625.3)" x="0" y="0" width="147.8" height="113.5" rx="5" fill="#4d545b" stroke="#4d545b" stroke-width="2.8" />
<rect transform="matrix(1,0.572,0,1,1089.19,624.79)" x="0" y="0" width="147.8" height="113.5" rx="5" fill="#4d545b" stroke="#4d545b" stroke-width="2.8" />
<rect transform="matrix(1,0.572,0,1,1090.08,624.28)" x="0" y="0" width="147.8" height="113.5" rx="5" fill="#4d545b" stroke="#4d545b" stroke-width="2.8" />
<rect transform="matrix(1,0.572,0,1,1090.97,623.77)" x="0" y="0" width="147.8" height="113.5" rx="5" fill="#4d545b" stroke="#4d545b" stroke-width="2.8" />
<rect transform="matrix(1,0.572,0,1,1091.86,623.27)" x="0" y="0" width="147.8" height="113.5" rx="5" fill="#4d545b" stroke="#4d545b" stroke-width="2.8" />
<rect transform="matrix(1,0.572,0,1,1092.74,622.76)" x="0" y="0" width="147.8" height="113.5" rx="5" fill="#4d545b" stroke="#4d545b" stroke-width="2.8" />
<rect transform="matrix(1,0.572,0,1,1093.63,622.25)" x="0" y="0" width="147.8" height="113.5" rx="5" fill="#4d545b" stroke="#4d545b" stroke-width="2.8" />
<rect transform="matrix(1,0.572,0,1,1094.52,621.74)" x="0" y="0" width="147.8" height="113.5" rx="5" fill="#4d545b" stroke="#4d545b" stroke-width="2.8" />
<rect transform="matrix(1,0.572,0,1,1095.41,621.23)" x="0" y="0" width="147.8" height="113.5" rx="5" fill="#4d545b" stroke="#4d545b" stroke-width="2.8" />
<rect transform="matrix(1,0.572,0,1,1096.3,620.72)" x="0" y="0" width="147.8" height="113.5" rx="5" fill="#4d545b" stroke="#4d545b" stroke-width="2.8" />
<rect transform="matrix(1,0.572,0,1,1088.3,625.3)" x="0" y="0" width="147.8" height="113.5" rx="5" fill="#ffffff" stroke="#4d545b" stroke-width="2.8" />
<rect transform="matrix(1,0.572,0,1,1088.3,625.3)" x="6" y="7" width="136.8" height="100.5" rx="3" fill="url(#gl)" stroke="#4d545b" stroke-width="2.5" />
<line x1="1236.9" y1="710.04" x2="1242.3" y2="706.95" stroke="#ffffff" stroke-width="2.4" stroke-linecap="butt"/>
<text transform="matrix(0.37,0.2116,0,1,1117,731.5)" font-family="Liberation Sans, sans-serif" font-weight="bold" font-size="79" letter-spacing="6" text-anchor="start" fill="#4d545b" stroke="#4d545b" stroke-width="0" vector-effect="non-scaling-stroke" style="vector-effect:non-scaling-stroke">SALE</text>
<rect transform="matrix(1,0.575,-1,0.575,1052.4,771)" x="0" y="0" width="65.5" height="45" rx="6" fill="#4d545b" stroke="#4d545b" stroke-width="2.8"/>
<polygon points="1010.92,793.88 1010.92,796.88 1072.9,833.34 1114.38,808.66 1114.38,805.66" fill="#4d545b" stroke="none"/>
<line x1="1010.92" y1="793.88" x2="1010.92" y2="796.88" stroke="#4d545b" stroke-width="2.8" stroke-linecap="butt"/>
<line x1="1114.38" y1="805.66" x2="1114.38" y2="808.66" stroke="#4d545b" stroke-width="2.8" stroke-linecap="butt"/>
<rect transform="matrix(1,0.575,-1,0.575,1052.4,768)" x="0" y="0" width="65.5" height="45" rx="6" fill="#ffffff" stroke="#4d545b" stroke-width="2.8"/>
<line x1="1072.9" y1="831.06" x2="1072.9" y2="833.12" stroke="#ffffff" stroke-width="2.5" stroke-linecap="butt"/>
<defs><linearGradient id="hg4" gradientUnits="userSpaceOnUse" x1="0" y1="30" x2="40.25" y2="-10.25"><stop offset="0" stop-color="#c6c7c8"/><stop offset="1" stop-color="#ffffff"/></linearGradient></defs>
<g transform="matrix(1,0.575,-1,0.575,1052.4,768)"><rect transform="translate(7.5,7.5)" x="0" y="0" width="50.5" height="30" rx="3.5" fill="url(#hg4)" stroke="#4d545b" stroke-width="2.2"/></g>
<path d="M1215.2,803.73 L1216.6,848.23 Q1216.8,850.73 1219.1,852.13 L1231.7,860.6 Q1235.7,862.8 1239.7,860.6 L1281.6,835.37 Q1283.9,833.97 1284.1,831.47 L1285.5,786.97 Z" fill="#4d545b" stroke="#4d545b" stroke-width="2.8" stroke-linejoin="round" stroke-linecap="round" />
<rect transform="matrix(1,0.572,-1,0.572,1265,774.9)" x="0" y="0" width="21.1" height="50.4" rx="5" fill="#ffffff" stroke="#4d545b" stroke-width="2.8"/>
<line x1="1235.7" y1="817.6" x2="1235.7" y2="862" stroke="#ffffff" stroke-width="2.7" stroke-linecap="butt"/>
<path d="M1275.1,697.1 L1275.1,702.7 A23.3,13 0 0 0 1321.7,702.7 L1321.7,697.1 Z" fill="#4d545b" stroke="#4d545b" stroke-width="2.8" stroke-linejoin="round" stroke-linecap="round" />
<ellipse cx="1298.4" cy="697.1" rx="23.3" ry="13" fill="url(#gr)" stroke="#4d545b" stroke-width="2.8" />
<path d="M1288.9,679.8 L1288.9,694.3 A9.5,5.4 0 0 0 1307.9,694.3 L1307.9,679.8 Z" fill="#4d545b" stroke="#4d545b" stroke-width="1.2" stroke-linejoin="round" stroke-linecap="round" />
<ellipse cx="1298.4" cy="679.8" rx="9.5" ry="5.4" fill="#4d545b" stroke="#4d545b" stroke-width="1.2" />
<ellipse cx="1298.4" cy="680.2" rx="6" ry="3.2" fill="#e9eaea" stroke="none" stroke-width="0" />
<line x1="1298.1" y1="676.8" x2="1298.1" y2="681" stroke="#4d545b" stroke-width="4.2" stroke-linecap="butt"/>
<line x1="1298.2" y1="606" x2="1298.2" y2="679" stroke="#4d545b" stroke-width="4.2" stroke-linecap="butt"/>
<rect transform="matrix(1,0.566,0,1,1271.5,514.8)" x="0" y="0" width="37.3" height="78.5" rx="6" fill="#4d545b" stroke="#4d545b" stroke-width="2.8" />
<rect transform="matrix(1,0.566,0,1,1272.47,514.25)" x="0" y="0" width="37.3" height="78.5" rx="6" fill="#4d545b" stroke="#4d545b" stroke-width="2.8" />
<rect transform="matrix(1,0.566,0,1,1273.44,513.7)" x="0" y="0" width="37.3" height="78.5" rx="6" fill="#4d545b" stroke="#4d545b" stroke-width="2.8" />
<rect transform="matrix(1,0.566,0,1,1274.41,513.15)" x="0" y="0" width="37.3" height="78.5" rx="6" fill="#4d545b" stroke="#4d545b" stroke-width="2.8" />
<rect transform="matrix(1,0.566,0,1,1275.39,512.6)" x="0" y="0" width="37.3" height="78.5" rx="6" fill="#4d545b" stroke="#4d545b" stroke-width="2.8" />
<rect transform="matrix(1,0.566,0,1,1276.36,512.05)" x="0" y="0" width="37.3" height="78.5" rx="6" fill="#4d545b" stroke="#4d545b" stroke-width="2.8" />
<rect transform="matrix(1,0.566,0,1,1277.33,511.5)" x="0" y="0" width="37.3" height="78.5" rx="6" fill="#4d545b" stroke="#4d545b" stroke-width="2.8" />
<rect transform="matrix(1,0.566,0,1,1278.3,510.95)" x="0" y="0" width="37.3" height="78.5" rx="6" fill="#4d545b" stroke="#4d545b" stroke-width="2.8" />
<rect transform="matrix(1,0.566,0,1,1271.5,514.8)" x="0" y="0" width="37.3" height="78.5" rx="6" fill="#ffffff" stroke="#4d545b" stroke-width="2.8" />
<rect transform="matrix(1,0.566,0,1,1271.5,514.8)" x="6.5" y="7.5" width="27.2" height="64.5" rx="3.5" fill="url(#gl)" stroke="#4d545b" stroke-width="2.5" />
<line x1="1309.6" y1="536.11" x2="1313.8" y2="533.73" stroke="#ffffff" stroke-width="2.4" stroke-linecap="butt"/>
<rect transform="matrix(1,0.566,0,1,1263,555.5)" x="0" y="0" width="21" height="11" rx="2.5" fill="#ffffff" stroke="#4d545b" stroke-width="2.6" />
<rect transform="matrix(1,0.566,0,1,1299.5,550.5)" x="0" y="0" width="20.5" height="11" rx="2.5" fill="#ffffff" stroke="#4d545b" stroke-width="2.6" />
<path transform="matrix(1,0.572,0,1,1382.6,695.9)" d="M0,0 L156.3,0 Q172.3,0 172.3,16 L172.3,313.5 L0,313.5 Z" fill="#4d545b" stroke="#4d545b" stroke-width="2.8" stroke-linejoin="round"/>
<path transform="matrix(1,0.572,0,1,1383.57,695.34)" d="M0,0 L156.3,0 Q172.3,0 172.3,16 L172.3,313.5 L0,313.5 Z" fill="#4d545b" stroke="#4d545b" stroke-width="2.8" stroke-linejoin="round"/>
<path transform="matrix(1,0.572,0,1,1384.55,694.78)" d="M0,0 L156.3,0 Q172.3,0 172.3,16 L172.3,313.5 L0,313.5 Z" fill="#4d545b" stroke="#4d545b" stroke-width="2.8" stroke-linejoin="round"/>
<path transform="matrix(1,0.572,0,1,1385.52,694.23)" d="M0,0 L156.3,0 Q172.3,0 172.3,16 L172.3,313.5 L0,313.5 Z" fill="#4d545b" stroke="#4d545b" stroke-width="2.8" stroke-linejoin="round"/>
<path transform="matrix(1,0.572,0,1,1386.5,693.67)" d="M0,0 L156.3,0 Q172.3,0 172.3,16 L172.3,313.5 L0,313.5 Z" fill="#4d545b" stroke="#4d545b" stroke-width="2.8" stroke-linejoin="round"/>
<path transform="matrix(1,0.572,0,1,1387.47,693.11)" d="M0,0 L156.3,0 Q172.3,0 172.3,16 L172.3,313.5 L0,313.5 Z" fill="#4d545b" stroke="#4d545b" stroke-width="2.8" stroke-linejoin="round"/>
<path transform="matrix(1,0.572,0,1,1388.45,692.55)" d="M0,0 L156.3,0 Q172.3,0 172.3,16 L172.3,313.5 L0,313.5 Z" fill="#4d545b" stroke="#4d545b" stroke-width="2.8" stroke-linejoin="round"/>
<path transform="matrix(1,0.572,0,1,1389.42,692)" d="M0,0 L156.3,0 Q172.3,0 172.3,16 L172.3,313.5 L0,313.5 Z" fill="#4d545b" stroke="#4d545b" stroke-width="2.8" stroke-linejoin="round"/>
<path transform="matrix(1,0.572,0,1,1390.4,691.44)" d="M0,0 L156.3,0 Q172.3,0 172.3,16 L172.3,313.5 L0,313.5 Z" fill="#4d545b" stroke="#4d545b" stroke-width="2.8" stroke-linejoin="round"/>
<path transform="matrix(1,0.572,0,1,1391.38,690.88)" d="M0,0 L156.3,0 Q172.3,0 172.3,16 L172.3,313.5 L0,313.5 Z" fill="#4d545b" stroke="#4d545b" stroke-width="2.8" stroke-linejoin="round"/>
<path transform="matrix(1,0.572,0,1,1392.35,690.32)" d="M0,0 L156.3,0 Q172.3,0 172.3,16 L172.3,313.5 L0,313.5 Z" fill="#4d545b" stroke="#4d545b" stroke-width="2.8" stroke-linejoin="round"/>
<path transform="matrix(1,0.572,0,1,1393.32,689.77)" d="M0,0 L156.3,0 Q172.3,0 172.3,16 L172.3,313.5 L0,313.5 Z" fill="#4d545b" stroke="#4d545b" stroke-width="2.8" stroke-linejoin="round"/>
<path transform="matrix(1,0.572,0,1,1394.3,689.21)" d="M0,0 L156.3,0 Q172.3,0 172.3,16 L172.3,313.5 L0,313.5 Z" fill="#4d545b" stroke="#4d545b" stroke-width="2.8" stroke-linejoin="round"/>
<path transform="matrix(1,0.572,0,1,1382.6,695.9)" d="M0,0 L156.3,0 Q172.3,0 172.3,16 L172.3,313.5 L0,313.5 Z" fill="url(#gl)" stroke="#4d545b" stroke-width="2.8" stroke-linejoin="round"/>
<line x1="1553.4" y1="796.76" x2="1561.9" y2="791.86" stroke="#ffffff" stroke-width="2.4" stroke-linecap="butt"/>
<rect transform="matrix(1,0.572,-1,0.572,1396.1,898.9)" x="0" y="0" width="145.9" height="66.6" rx="3" fill="#4d545b" stroke="#4d545b" stroke-width="2.8" />
<polygon points="1331.26,928.7 1331.26,937 1540.24,982.35 1540.24,974.05" fill="#4d545b" stroke="#4d545b" stroke-width="2.8" stroke-linejoin="round" />
<rect transform="matrix(1,0.572,-1,0.572,1396.1,890.6)" x="0" y="0" width="145.9" height="66.6" rx="3" fill="url(#gr)" stroke="#4d545b" stroke-width="2.8" />
<line x1="1475.4" y1="1012.68" x2="1475.4" y2="1020.04" stroke="#ffffff" stroke-width="2.5" stroke-linecap="butt"/>
<rect transform="matrix(1,0.572,0,1,1352.5,941.3)" x="0" y="0" width="21.8" height="15.4" rx="2.5" fill="#4d545b" stroke="#4d545b" stroke-width="1" />
<rect transform="matrix(1,0.572,0,1,1354.9,943.8)" x="0" y="0" width="17" height="10.5" rx="1.5" fill="url(#gr)" stroke="none" stroke-width="0" />
<rect transform="matrix(1,0.572,0,1,1392.6,963.5)" x="0" y="0" width="21.8" height="15.4" rx="2.5" fill="#4d545b" stroke="#4d545b" stroke-width="1" />
<rect transform="matrix(1,0.572,0,1,1395,966)" x="0" y="0" width="17" height="10.5" rx="1.5" fill="url(#gr)" stroke="none" stroke-width="0" />
<rect transform="matrix(1,0.572,0,1,1431.8,986.8)" x="0" y="0" width="21.8" height="15.4" rx="2.5" fill="#4d545b" stroke="#4d545b" stroke-width="1" />
<rect transform="matrix(1,0.572,0,1,1434.2,989.3)" x="0" y="0" width="17" height="10.5" rx="1.5" fill="url(#gl)" stroke="none" stroke-width="0" />
<rect transform="matrix(1,0.572,-1,0.572,1367.6,907.6)" x="0" y="0" width="17" height="10.6" rx="2.5" fill="#4d545b" stroke="#4d545b" stroke-width="2.8" />
<polygon points="1358.46,908.66 1358.46,913.66 1383.13,917.32 1383.13,912.32" fill="#4d545b" stroke="#4d545b" stroke-width="2.8" stroke-linejoin="round" />
<rect transform="matrix(1,0.572,-1,0.572,1367.6,902.6)" x="0" y="0" width="17" height="10.6" rx="2.5" fill="#ffffff" stroke="#4d545b" stroke-width="2.8" />
<line x1="1374" y1="919.09" x2="1374" y2="923.15" stroke="#ffffff" stroke-width="2.5" stroke-linecap="butt"/>
<rect transform="matrix(1,0.572,0,1,1344.3,815.4)" x="0" y="0" width="68.7" height="69" rx="4" fill="#4d545b" stroke="#4d545b" stroke-width="2.8" />
<rect transform="matrix(1,0.572,0,1,1345.19,814.89)" x="0" y="0" width="68.7" height="69" rx="4" fill="#4d545b" stroke="#4d545b" stroke-width="2.8" />
<rect transform="matrix(1,0.572,0,1,1346.08,814.38)" x="0" y="0" width="68.7" height="69" rx="4" fill="#4d545b" stroke="#4d545b" stroke-width="2.8" />
<rect transform="matrix(1,0.572,0,1,1346.97,813.87)" x="0" y="0" width="68.7" height="69" rx="4" fill="#4d545b" stroke="#4d545b" stroke-width="2.8" />
<rect transform="matrix(1,0.572,0,1,1347.86,813.37)" x="0" y="0" width="68.7" height="69" rx="4" fill="#4d545b" stroke="#4d545b" stroke-width="2.8" />
<rect transform="matrix(1,0.572,0,1,1348.74,812.86)" x="0" y="0" width="68.7" height="69" rx="4" fill="#4d545b" stroke="#4d545b" stroke-width="2.8" />
<rect transform="matrix(1,0.572,0,1,1349.63,812.35)" x="0" y="0" width="68.7" height="69" rx="4" fill="#4d545b" stroke="#4d545b" stroke-width="2.8" />
<rect transform="matrix(1,0.572,0,1,1350.52,811.84)" x="0" y="0" width="68.7" height="69" rx="4" fill="#4d545b" stroke="#4d545b" stroke-width="2.8" />
<rect transform="matrix(1,0.572,0,1,1351.41,811.33)" x="0" y="0" width="68.7" height="69" rx="4" fill="#4d545b" stroke="#4d545b" stroke-width="2.8" />
<rect transform="matrix(1,0.572,0,1,1352.3,810.82)" x="0" y="0" width="68.7" height="69" rx="4" fill="#4d545b" stroke="#4d545b" stroke-width="2.8" />
<rect transform="matrix(1,0.572,0,1,1344.3,815.4)" x="0" y="0" width="68.7" height="69" rx="4" fill="#ffffff" stroke="#4d545b" stroke-width="2.8" />
<rect transform="matrix(1,0.572,0,1,1344.3,815.4)" x="5.5" y="6" width="58.7" height="58" rx="2.5" fill="url(#gl)" stroke="#4d545b" stroke-width="2.5" />
<line x1="1413.8" y1="854.9" x2="1419.2" y2="851.81" stroke="#ffffff" stroke-width="2.4" stroke-linecap="butt"/>
<rect transform="matrix(1,0.572,-1,0.572,1471.2,964.1)" x="0" y="0" width="26.4" height="13.8" rx="1.5" fill="#ffffff" stroke="#4d545b" stroke-width="2.8"/>
<polygon points="1458.28,965.49 1458.28,971.99 1483.8,986.79 1496.72,979.2 1496.72,972.7" fill="#ffffff" stroke="none"/>
<line x1="1458.28" y1="965.49" x2="1458.28" y2="971.99" stroke="#4d545b" stroke-width="2.8" stroke-linecap="butt"/>
<line x1="1496.72" y1="972.7" x2="1496.72" y2="979.2" stroke="#4d545b" stroke-width="2.8" stroke-linecap="butt"/>
<rect transform="matrix(1,0.572,-1,0.572,1471.2,957.6)" x="0" y="0" width="26.4" height="13.8" rx="1.5" fill="#ffffff" stroke="#4d545b" stroke-width="2.8"/>
<polygon points="1483.8,980.59 1497.6,972.7 1497.6,979.2 1483.8,987.09" fill="#4d545b" stroke="#4d545b" stroke-width="1.5" stroke-linejoin="round" />
<rect transform="matrix(1,0.572,0,1,1433.1,864.5)" x="0" y="0" width="104.7" height="62.5" rx="5" fill="#4d545b" stroke="#4d545b" stroke-width="2.8" />
<rect transform="matrix(1,0.572,0,1,1434.03,863.97)" x="0" y="0" width="104.7" height="62.5" rx="5" fill="#4d545b" stroke="#4d545b" stroke-width="2.8" />
<rect transform="matrix(1,0.572,0,1,1434.96,863.44)" x="0" y="0" width="104.7" height="62.5" rx="5" fill="#4d545b" stroke="#4d545b" stroke-width="2.8" />
<rect transform="matrix(1,0.572,0,1,1435.89,862.91)" x="0" y="0" width="104.7" height="62.5" rx="5" fill="#4d545b" stroke="#4d545b" stroke-width="2.8" />
<rect transform="matrix(1,0.572,0,1,1436.81,862.38)" x="0" y="0" width="104.7" height="62.5" rx="5" fill="#4d545b" stroke="#4d545b" stroke-width="2.8" />
<rect transform="matrix(1,0.572,0,1,1437.74,861.84)" x="0" y="0" width="104.7" height="62.5" rx="5" fill="#4d545b" stroke="#4d545b" stroke-width="2.8" />
<rect transform="matrix(1,0.572,0,1,1438.67,861.31)" x="0" y="0" width="104.7" height="62.5" rx="5" fill="#4d545b" stroke="#4d545b" stroke-width="2.8" />
<rect transform="matrix(1,0.572,0,1,1439.6,860.78)" x="0" y="0" width="104.7" height="62.5" rx="5" fill="#4d545b" stroke="#4d545b" stroke-width="2.8" />
<rect transform="matrix(1,0.572,0,1,1433.1,864.5)" x="0" y="0" width="104.7" height="62.5" rx="5" fill="#ffffff" stroke="#4d545b" stroke-width="2.8" />
<rect transform="matrix(1,0.572,0,1,1433.1,864.5)" x="5.5" y="5.5" width="94.2" height="52" rx="3" fill="url(#gl)" stroke="#4d545b" stroke-width="2.5" />
<line x1="1538.6" y1="924.59" x2="1542.5" y2="922.36" stroke="#ffffff" stroke-width="2.4" stroke-linecap="butt"/>
<text transform="matrix(0.6,0.3432,0,1,1461.5,926.8)" font-family="Liberation Sans, sans-serif" font-weight="bold" font-size="33" letter-spacing="3" text-anchor="start" fill="#4d545b" stroke="#4d545b" stroke-width="0" vector-effect="non-scaling-stroke" style="vector-effect:non-scaling-stroke">50%</text>
<rect transform="matrix(1,0.572,-1,0.572,1396.1,773.9)" x="0" y="0" width="145.9" height="66.6" rx="3" fill="#4d545b" stroke="#4d545b" stroke-width="2.8" />
<polygon points="1331.26,804 1331.26,812 1540.24,857.35 1540.24,849.35" fill="#4d545b" stroke="#4d545b" stroke-width="2.8" stroke-linejoin="round" />
<rect transform="matrix(1,0.572,-1,0.572,1396.1,765.9)" x="0" y="0" width="145.9" height="66.6" rx="3" fill="url(#gr)" stroke="#4d545b" stroke-width="2.8" />
<line x1="1475.4" y1="887.98" x2="1475.4" y2="895.04" stroke="#ffffff" stroke-width="2.5" stroke-linecap="butt"/>
<rect transform="matrix(1,0.572,0,1,1352.5,816.2)" x="0" y="0" width="21.8" height="15.4" rx="2.5" fill="#4d545b" stroke="#4d545b" stroke-width="1" />
<rect transform="matrix(1,0.572,0,1,1354.9,818.7)" x="0" y="0" width="17" height="10.5" rx="1.5" fill="url(#gl)" stroke="none" stroke-width="0" />
<rect transform="matrix(1,0.572,0,1,1392.6,838.8)" x="0" y="0" width="21.8" height="15.4" rx="2.5" fill="#4d545b" stroke="#4d545b" stroke-width="1" />
<rect transform="matrix(1,0.572,0,1,1395,841.3)" x="0" y="0" width="17" height="10.5" rx="1.5" fill="url(#gr)" stroke="none" stroke-width="0" />
<rect transform="matrix(1,0.572,0,1,1431.8,861)" x="0" y="0" width="21.8" height="15.4" rx="2.5" fill="#4d545b" stroke="#4d545b" stroke-width="1" />
<rect transform="matrix(1,0.572,0,1,1434.2,863.5)" x="0" y="0" width="17" height="10.5" rx="1.5" fill="url(#gr)" stroke="none" stroke-width="0" />
<rect transform="matrix(1,0.572,-1,0.572,1410.9,808.8)" x="0" y="0" width="33.8" height="14.8" rx="3" fill="#4d545b" stroke="#4d545b" stroke-width="2.8" />
<polygon points="1397.86,810.77 1397.86,817.27 1442.94,828.13 1442.94,821.63" fill="#4d545b" stroke="#4d545b" stroke-width="2.8" stroke-linejoin="round" />
<rect transform="matrix(1,0.572,-1,0.572,1410.9,802.3)" x="0" y="0" width="33.8" height="14.8" rx="3" fill="#ffffff" stroke="#4d545b" stroke-width="2.8" />
<line x1="1429.9" y1="830.63" x2="1429.9" y2="836.19" stroke="#ffffff" stroke-width="2.5" stroke-linecap="butt"/>
<rect transform="matrix(1,0.572,0,1,1353.8,650.3)" x="0" y="0" width="150.1" height="114.8" rx="5" fill="#4d545b" stroke="#4d545b" stroke-width="2.8" />
<rect transform="matrix(1,0.572,0,1,1354.67,649.8)" x="0" y="0" width="150.1" height="114.8" rx="5" fill="#4d545b" stroke="#4d545b" stroke-width="2.8" />
<rect transform="matrix(1,0.572,0,1,1355.55,649.3)" x="0" y="0" width="150.1" height="114.8" rx="5" fill="#4d545b" stroke="#4d545b" stroke-width="2.8" />
<rect transform="matrix(1,0.572,0,1,1356.42,648.8)" x="0" y="0" width="150.1" height="114.8" rx="5" fill="#4d545b" stroke="#4d545b" stroke-width="2.8" />
<rect transform="matrix(1,0.572,0,1,1357.3,648.3)" x="0" y="0" width="150.1" height="114.8" rx="5" fill="#4d545b" stroke="#4d545b" stroke-width="2.8" />
<rect transform="matrix(1,0.572,0,1,1358.17,647.8)" x="0" y="0" width="150.1" height="114.8" rx="5" fill="#4d545b" stroke="#4d545b" stroke-width="2.8" />
<rect transform="matrix(1,0.572,0,1,1359.05,647.3)" x="0" y="0" width="150.1" height="114.8" rx="5" fill="#4d545b" stroke="#4d545b" stroke-width="2.8" />
<rect transform="matrix(1,0.572,0,1,1359.92,646.8)" x="0" y="0" width="150.1" height="114.8" rx="5" fill="#4d545b" stroke="#4d545b" stroke-width="2.8" />
<rect transform="matrix(1,0.572,0,1,1360.8,646.3)" x="0" y="0" width="150.1" height="114.8" rx="5" fill="#4d545b" stroke="#4d545b" stroke-width="2.8" />
<rect transform="matrix(1,0.572,0,1,1353.8,650.3)" x="0" y="0" width="150.1" height="114.8" rx="5" fill="#ffffff" stroke="#4d545b" stroke-width="2.8" />
<rect transform="matrix(1,0.572,0,1,1353.8,650.3)" x="6" y="7" width="139.6" height="101.8" rx="3" fill="url(#gl)" stroke="#4d545b" stroke-width="2.5" />
<line x1="1504.7" y1="736.36" x2="1509.1" y2="733.84" stroke="#ffffff" stroke-width="2.4" stroke-linecap="butt"/>
<text transform="matrix(0.4,0.2288,0,1,1409.5,762.4)" font-family="Liberation Sans, sans-serif" font-weight="bold" font-size="54.5" letter-spacing="8" text-anchor="start" fill="#4d545b" stroke="#4d545b" stroke-width="0" vector-effect="non-scaling-stroke" style="vector-effect:non-scaling-stroke">4K</text>
<line x1="1036" y1="988" x2="1010.7" y2="1065.6" stroke="#4d545b" stroke-width="4.3" stroke-linecap="square"/>
<line x1="1029.4" y1="1013.6" x2="1056" y2="1000.5" stroke="#4d545b" stroke-width="4.3" stroke-linecap="square"/>
<line x1="1232" y1="1052" x2="1192" y2="1171" stroke="#4d545b" stroke-width="4.3" stroke-linecap="square"/>
<line x1="1238" y1="1046" x2="1272.7" y2="1124.1" stroke="#4d545b" stroke-width="4.3" stroke-linecap="square"/>
<line x1="1210.2" y1="1121.5" x2="1258.4" y2="1095.5" stroke="#4d545b" stroke-width="4.3" stroke-linecap="square"/>
<defs><linearGradient id="hg5" gradientUnits="userSpaceOnUse" x1="0" y1="98" x2="146.75" y2="-48.75"><stop offset="0" stop-color="#c2c3c4"/><stop offset="0.45" stop-color="#e6e6e6"/><stop offset="1" stop-color="#ffffff"/></linearGradient></defs>
<rect transform="matrix(1,0.575,-1,0.575,1089.3,917.3)" x="0" y="0" width="195.5" height="98" rx="7" fill="#4d545b" stroke="#4d545b" stroke-width="2.8"/>
<polygon points="995.4,965.65 995.4,973.65 1186.8,1084.66 1280.7,1029.71 1280.7,1021.71" fill="#4d545b" stroke="none"/>
<line x1="995.4" y1="965.65" x2="995.4" y2="973.65" stroke="#4d545b" stroke-width="2.8" stroke-linecap="butt"/>
<line x1="1280.7" y1="1021.71" x2="1280.7" y2="1029.71" stroke="#4d545b" stroke-width="2.8" stroke-linecap="butt"/>
<rect transform="matrix(1,0.575,-1,0.575,1089.3,909.3)" x="0" y="0" width="195.5" height="98" rx="7" fill="url(#hg5)" stroke="#4d545b" stroke-width="2.8"/>
<line x1="1186.8" y1="1077.24" x2="1186.8" y2="1084.3" stroke="#ffffff" stroke-width="2.5" stroke-linecap="butt"/>
<rect transform="matrix(1,0.575,-1,0.575,1085.4,931)" x="0" y="0" width="45" height="63.5" rx="6" fill="#4d545b" stroke="#4d545b" stroke-width="2.8"/>
<polygon points="1025.42,964.51 1025.42,967.51 1066.9,992.19 1126.88,956.88 1126.88,953.88" fill="#4d545b" stroke="none"/>
<line x1="1025.42" y1="964.51" x2="1025.42" y2="967.51" stroke="#4d545b" stroke-width="2.8" stroke-linecap="butt"/>
<line x1="1126.88" y1="953.88" x2="1126.88" y2="956.88" stroke="#4d545b" stroke-width="2.8" stroke-linecap="butt"/>
<rect transform="matrix(1,0.575,-1,0.575,1085.4,928)" x="0" y="0" width="45" height="63.5" rx="6" fill="#ffffff" stroke="#4d545b" stroke-width="2.8"/>
<line x1="1066.9" y1="989.91" x2="1066.9" y2="991.97" stroke="#ffffff" stroke-width="2.5" stroke-linecap="butt"/>
<defs><linearGradient id="hg6" gradientUnits="userSpaceOnUse" x1="0" y1="48.5" x2="39.25" y2="9.25"><stop offset="0" stop-color="#c6c7c8"/><stop offset="1" stop-color="#ffffff"/></linearGradient></defs>
<g transform="matrix(1,0.575,-1,0.575,1085.4,928)"><rect transform="translate(7.5,7.5)" x="0" y="0" width="30" height="48.5" rx="3.5" fill="url(#hg6)" stroke="#4d545b" stroke-width="2.2"/></g>
<rect transform="matrix(1,0.575,-1,0.575,1117.9,987)" x="0" y="0" width="36.5" height="30.5" rx="6" fill="#4d545b" stroke="#4d545b" stroke-width="2.8"/>
<polygon points="1090.92,1001.54 1090.92,1004.54 1123.9,1024.33 1150.88,1007.99 1150.88,1004.99" fill="#4d545b" stroke="none"/>
<line x1="1090.92" y1="1001.54" x2="1090.92" y2="1004.54" stroke="#4d545b" stroke-width="2.8" stroke-linecap="butt"/>
<line x1="1150.88" y1="1004.99" x2="1150.88" y2="1007.99" stroke="#4d545b" stroke-width="2.8" stroke-linecap="butt"/>
<rect transform="matrix(1,0.575,-1,0.575,1117.9,984)" x="0" y="0" width="36.5" height="30.5" rx="6" fill="#ffffff" stroke="#4d545b" stroke-width="2.8"/>
<line x1="1123.9" y1="1022.04" x2="1123.9" y2="1024.1" stroke="#ffffff" stroke-width="2.5" stroke-linecap="butt"/>
<g transform="matrix(1,0.575,-1,0.575,1117.9,984)"><rect transform="translate(7,7)" x="0" y="0" width="22.5" height="16.5" rx="3.5" fill="#ffffff" stroke="#4d545b" stroke-width="2.2"/></g>
<path d="M1137.3,926.89 L1138.2,970.39 Q1138.4,972.89 1140.7,974.29 L1158.8,985.7 Q1162.8,987.9 1166.8,985.7 L1180.7,976.71 Q1183,975.31 1183.2,972.81 L1184.1,929.31 Z" fill="#4d545b" stroke="#4d545b" stroke-width="2.8" stroke-linejoin="round" stroke-linecap="round" />
<rect transform="matrix(1,0.575,-1,0.575,1158.6,914.3)" x="0" y="0" width="26.1" height="21.9" rx="5" fill="#ffffff" stroke="#4d545b" stroke-width="2.8"/>
<line x1="1162.8" y1="943.7" x2="1162.8" y2="987.1" stroke="#ffffff" stroke-width="2.7" stroke-linecap="butt"/>
<rect transform="matrix(1,0.575,-1,0.575,1198.5,986.3)" x="0" y="0" width="64.5" height="31.5" rx="6" fill="#4d545b" stroke="#4d545b" stroke-width="2.8"/>
<polygon points="1170.52,1001.41 1170.52,1004.41 1231.5,1040.3 1259.48,1023.39 1259.48,1020.39" fill="#4d545b" stroke="none"/>
<line x1="1170.52" y1="1001.41" x2="1170.52" y2="1004.41" stroke="#4d545b" stroke-width="2.8" stroke-linecap="butt"/>
<line x1="1259.48" y1="1020.39" x2="1259.48" y2="1023.39" stroke="#4d545b" stroke-width="2.8" stroke-linecap="butt"/>
<rect transform="matrix(1,0.575,-1,0.575,1198.5,983.3)" x="0" y="0" width="64.5" height="31.5" rx="6" fill="#ffffff" stroke="#4d545b" stroke-width="2.8"/>
<line x1="1231.5" y1="1038.02" x2="1231.5" y2="1040.08" stroke="#ffffff" stroke-width="2.5" stroke-linecap="butt"/>
<defs><linearGradient id="hg7" gradientUnits="userSpaceOnUse" x1="0" y1="18.5" x2="35" y2="-16.5"><stop offset="0" stop-color="#c6c7c8"/><stop offset="1" stop-color="#ffffff"/></linearGradient></defs>
<g transform="matrix(1,0.575,-1,0.575,1198.5,983.3)"><rect transform="translate(6.5,6.5)" x="0" y="0" width="51.5" height="18.5" rx="3.5" fill="url(#hg7)" stroke="#4d545b" stroke-width="2.2"/></g>
<path d="M1149.8,1027.98 L1150.7,1042.98 Q1150.9,1045.48 1153.2,1046.88 L1171.8,1058.57 Q1175.8,1060.77 1179.8,1058.57 L1194.2,1049.3 Q1196.5,1047.89 1196.7,1045.39 L1197.6,1030.39 Z" fill="#4d545b" stroke="#4d545b" stroke-width="2.8" stroke-linejoin="round" stroke-linecap="round" />
<rect transform="matrix(1,0.575,-1,0.575,1171.6,1015.1)" x="0" y="0" width="26.6" height="22.4" rx="5" fill="#ffffff" stroke="#4d545b" stroke-width="2.8"/>
<line x1="1175.8" y1="1045.07" x2="1175.8" y2="1059.97" stroke="#ffffff" stroke-width="2.7" stroke-linecap="butt"/>
<rect transform="matrix(1,0.575,-1,0.575,851.6,1075.7)" x="0" y="0" width="43.5" height="64" rx="6" fill="#4d545b" stroke="#4d545b" stroke-width="2.8"/>
<polygon points="791.12,1109.5 791.12,1112.5 831.1,1136.31 891.58,1100.71 891.58,1097.71" fill="#4d545b" stroke="none"/>
<line x1="791.12" y1="1109.5" x2="791.12" y2="1112.5" stroke="#4d545b" stroke-width="2.8" stroke-linecap="butt"/>
<line x1="891.58" y1="1097.71" x2="891.58" y2="1100.71" stroke="#4d545b" stroke-width="2.8" stroke-linecap="butt"/>
<rect transform="matrix(1,0.575,-1,0.575,851.6,1072.7)" x="0" y="0" width="43.5" height="64" rx="6" fill="#ffffff" stroke="#4d545b" stroke-width="2.8"/>
<line x1="831.1" y1="1134.03" x2="831.1" y2="1136.09" stroke="#ffffff" stroke-width="2.5" stroke-linecap="butt"/>
<defs><linearGradient id="hg8" gradientUnits="userSpaceOnUse" x1="0" y1="49" x2="38.75" y2="10.25"><stop offset="0" stop-color="#c6c7c8"/><stop offset="1" stop-color="#ffffff"/></linearGradient></defs>
<g transform="matrix(1,0.575,-1,0.575,851.6,1072.7)"><rect transform="translate(7.5,7.5)" x="0" y="0" width="28.5" height="49" rx="3.5" fill="url(#hg8)" stroke="#4d545b" stroke-width="2.2"/></g>
<path d="M899.9,1064.61 L901.6,1106.61 Q901.8,1109.11 904.1,1110.51 L923.4,1123.06 Q927.4,1125.26 931.4,1123.06 L944,1114.36 Q946.3,1112.96 946.5,1110.46 L948.2,1068.46 Z" fill="#4d545b" stroke="#4d545b" stroke-width="2.8" stroke-linejoin="round" stroke-linecap="round" />
<defs><linearGradient id="hg9" gradientUnits="userSpaceOnUse" x1="0" y1="21.4" x2="24.75" y2="-3.35"><stop offset="0" stop-color="#c6c7c8"/><stop offset="1" stop-color="#ffffff"/></linearGradient></defs>
<rect transform="matrix(1,0.575,-1,0.575,920.7,1052.3)" x="0" y="0" width="28.1" height="21.4" rx="5" fill="url(#hg9)" stroke="#4d545b" stroke-width="2.8"/>
<line x1="927.4" y1="1082.56" x2="927.4" y2="1124.46" stroke="#ffffff" stroke-width="2.7" stroke-linecap="butt"/>
<path d="M855.6,1133.11 L857,1149.11 Q857.2,1151.61 859.5,1153.01 L879.1,1165.56 Q883.1,1167.76 887.1,1165.56 L900,1156.86 Q902.3,1155.46 902.5,1152.96 L903.9,1136.96 Z" fill="#4d545b" stroke="#4d545b" stroke-width="2.8" stroke-linejoin="round" stroke-linecap="round" />
<rect transform="matrix(1,0.575,-1,0.575,876.4,1120.8)" x="0" y="0" width="28.1" height="21.4" rx="5" fill="#ffffff" stroke="#4d545b" stroke-width="2.8"/>
<line x1="883.1" y1="1151.06" x2="883.1" y2="1166.96" stroke="#ffffff" stroke-width="2.7" stroke-linecap="butt"/>
</svg>
</body></html>
